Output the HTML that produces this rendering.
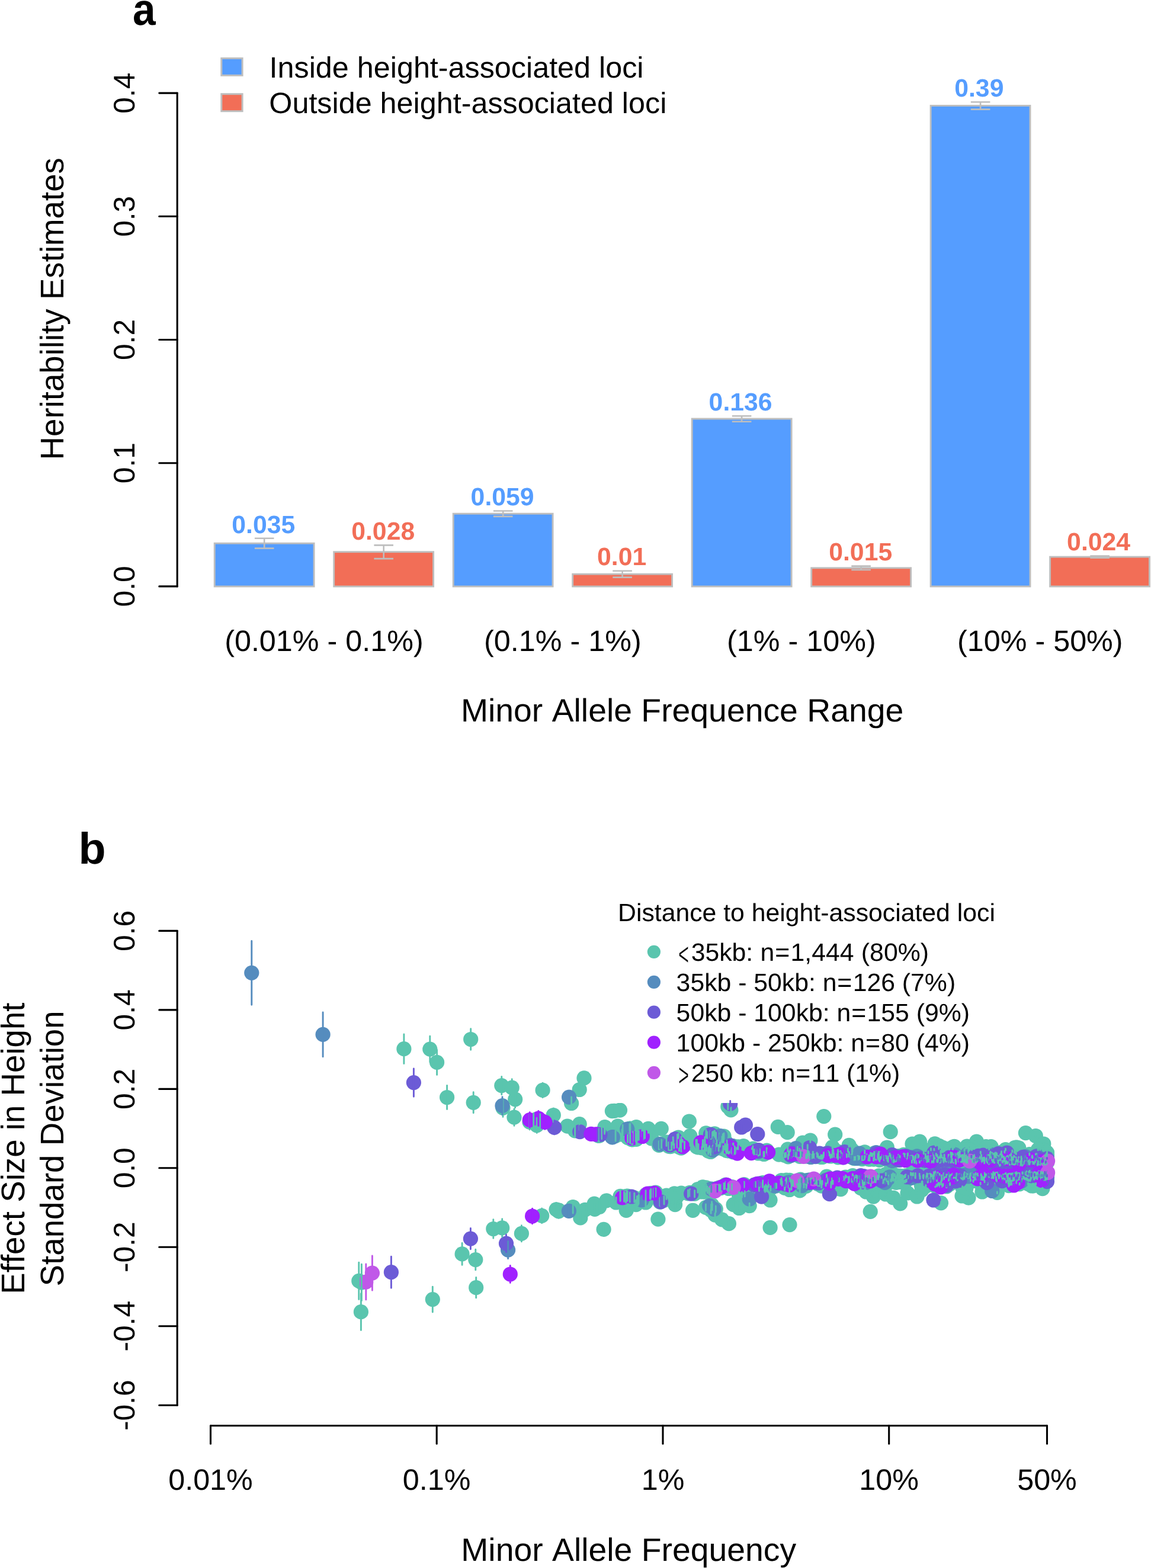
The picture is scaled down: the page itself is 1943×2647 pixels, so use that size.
<!DOCTYPE html>
<html lang="en"><head><meta charset="utf-8"><title>Figure</title>
<style>html,body{margin:0;padding:0;background:#fff}svg{display:block}text{font-family:'Liberation Sans', Arial, Helvetica, sans-serif;fill:#000;font-kerning:none;font-variant-ligatures:none;text-rendering:geometricPrecision}</style></head><body>
<svg width="1943" height="2647" viewBox="0 0 1943 2647">
<rect width="1943" height="2647" fill="#fff"/>
<g id="panel-a">
<text transform="translate(224 41.5) scale(0.925 1.012)" font-size="75" font-weight="bold">a</text>
<g stroke="#000" stroke-width="3.1" fill="none" stroke-linecap="round" stroke-linejoin="round">
<path d="M299.2 157.1 V989.9"/>
<path d="M268.8 989.9 H299.2"/>
<path d="M268.8 781.7 H299.2"/>
<path d="M268.8 573.5 H299.2"/>
<path d="M268.8 365.3 H299.2"/>
<path d="M268.8 157.1 H299.2"/>
</g>
<text transform="translate(227.4 989.9) rotate(-90) scale(0.994 1.006)" font-size="50" text-anchor="middle">0.0</text>
<text transform="translate(227.4 781.7) rotate(-90) scale(0.994 1.006)" font-size="50" text-anchor="middle">0.1</text>
<text transform="translate(227.4 573.5) rotate(-90) scale(0.994 1.006)" font-size="50" text-anchor="middle">0.2</text>
<text transform="translate(227.4 365.3) rotate(-90) scale(0.994 1.006)" font-size="50" text-anchor="middle">0.3</text>
<text transform="translate(227.4 157.1) rotate(-90) scale(0.994 1.006)" font-size="50" text-anchor="middle">0.4</text>
<text transform="translate(107 521.3) rotate(-90) scale(0.994 1.006)" font-size="55" text-anchor="middle">Heritability Estimates</text>
<rect x="362.2" y="917.2" width="167.9" height="72.8" fill="#559DFF" stroke="#BEBEBE" stroke-width="2.9"/>
<rect x="563.7" y="931.7" width="167.9" height="58.3" fill="#F26E57" stroke="#BEBEBE" stroke-width="2.9"/>
<rect x="765.2" y="867.2" width="167.9" height="122.8" fill="#559DFF" stroke="#BEBEBE" stroke-width="2.9"/>
<rect x="966.7" y="969.2" width="167.9" height="20.8" fill="#F26E57" stroke="#BEBEBE" stroke-width="2.9"/>
<rect x="1168.2" y="707" width="167.9" height="283" fill="#559DFF" stroke="#BEBEBE" stroke-width="2.9"/>
<rect x="1369.7" y="958.8" width="167.9" height="31.2" fill="#F26E57" stroke="#BEBEBE" stroke-width="2.9"/>
<rect x="1571.1" y="178.4" width="167.9" height="811.6" fill="#559DFF" stroke="#BEBEBE" stroke-width="2.9"/>
<rect x="1772.6" y="940.1" width="167.9" height="49.9" fill="#F26E57" stroke="#BEBEBE" stroke-width="2.9"/>
<path d="M446.2 908.8 V925.6 M429.9 908.8 h32.6 M429.9 925.6 h32.6" stroke="#BEBEBE" stroke-width="2.6" fill="none"/>
<text transform="translate(444.8 899.5) scale(1.006 0.994)" font-size="42.5" text-anchor="middle" font-weight="bold" style="fill:#559DFF">0.035</text>
<path d="M647.7 920.4 V943.1 M631.4 920.4 h32.6 M631.4 943.1 h32.6" stroke="#BEBEBE" stroke-width="2.6" fill="none"/>
<text transform="translate(646.7 911.1) scale(1.006 0.994)" font-size="42.5" text-anchor="middle" font-weight="bold" style="fill:#F26E57">0.028</text>
<path d="M849.2 862.5 V871.9 M832.9 862.5 h32.6 M832.9 871.9 h32.6" stroke="#BEBEBE" stroke-width="2.6" fill="none"/>
<text transform="translate(848.1 853.2) scale(1.006 0.994)" font-size="42.5" text-anchor="middle" font-weight="bold" style="fill:#559DFF">0.059</text>
<path d="M1050.6 963.7 V974.6 M1034.3 963.7 h32.6 M1034.3 974.6 h32.6" stroke="#BEBEBE" stroke-width="2.6" fill="none"/>
<text transform="translate(1049.6 954.4) scale(1.006 0.994)" font-size="42.5" text-anchor="middle" font-weight="bold" style="fill:#F26E57">0.01</text>
<path d="M1252.1 702.2 V711.8 M1235.8 702.2 h32.6 M1235.8 711.8 h32.6" stroke="#BEBEBE" stroke-width="2.6" fill="none"/>
<text transform="translate(1250.1 692.9) scale(1.006 0.994)" font-size="42.5" text-anchor="middle" font-weight="bold" style="fill:#559DFF">0.136</text>
<path d="M1453.6 955.6 V962 M1437.3 955.6 h32.6 M1437.3 962 h32.6" stroke="#BEBEBE" stroke-width="2.6" fill="none"/>
<text transform="translate(1452.7 946.3) scale(1.006 0.994)" font-size="42.5" text-anchor="middle" font-weight="bold" style="fill:#F26E57">0.015</text>
<path d="M1655.1 172.2 V184.6 M1638.8 172.2 h32.6 M1638.8 184.6 h32.6" stroke="#BEBEBE" stroke-width="2.6" fill="none"/>
<text transform="translate(1652.8 162.9) scale(1.006 0.994)" font-size="42.5" text-anchor="middle" font-weight="bold" style="fill:#559DFF">0.39</text>
<path d="M1856.6 938.6 V941.6 M1840.3 938.6 h32.6 M1840.3 941.6 h32.6" stroke="#BEBEBE" stroke-width="2.6" fill="none"/>
<text transform="translate(1854.6 929.3) scale(1.006 0.994)" font-size="42.5" text-anchor="middle" font-weight="bold" style="fill:#F26E57">0.024</text>
<rect x="373.8" y="98.4" width="35.3" height="28.9" fill="#559DFF" stroke="#BEBEBE" stroke-width="3"/>
<rect x="373.8" y="158.7" width="35.3" height="29" fill="#F26E57" stroke="#BEBEBE" stroke-width="3"/>
<text transform="translate(454.6 131.2) scale(1.006 0.994)" font-size="50">Inside height-associated loci</text>
<text transform="translate(454.3 191.4) scale(1.006 0.994)" font-size="50">Outside height-associated loci</text>
<text transform="translate(546.9 1098.5) scale(1.006 0.994)" font-size="50" text-anchor="middle">(0.01% - 0.1%)</text>
<text transform="translate(949.9 1098.5) scale(1.006 0.994)" font-size="50" text-anchor="middle">(0.1% - 1%)</text>
<text transform="translate(1352.9 1098.5) scale(1.006 0.994)" font-size="50" text-anchor="middle">(1% - 10%)</text>
<text transform="translate(1755.8 1098.5) scale(1.006 0.994)" font-size="50" text-anchor="middle">(10% - 50%)</text>
<text transform="translate(1151.6 1218) scale(1.006 0.994)" font-size="55" text-anchor="middle">Minor Allele Frequence Range</text>
</g>
<g id="panel-b">
<text transform="translate(132.6 1458.4) scale(1.006 0.994)" font-size="75" font-weight="bold">b</text>
<g stroke="#000" stroke-width="3.1" fill="none" stroke-linecap="round" stroke-linejoin="round">
<path d="M299.2 1571.4 V2372.3"/>
<path d="M268.8 1571.4 H299.2"/>
<path d="M268.8 1704.9 H299.2"/>
<path d="M268.8 1838.4 H299.2"/>
<path d="M268.8 1971.8 H299.2"/>
<path d="M268.8 2105.3 H299.2"/>
<path d="M268.8 2238.8 H299.2"/>
<path d="M268.8 2372.3 H299.2"/>
<path d="M355.5 2406.8 H1767.5"/>
<path d="M355.5 2406.8 V2437.2"/>
<path d="M737.2 2406.8 V2437.2"/>
<path d="M1119 2406.8 V2437.2"/>
<path d="M1500.7 2406.8 V2437.2"/>
<path d="M1767.5 2406.8 V2437.2"/>
</g>
<text transform="translate(227.4 1571.4) rotate(-90) scale(0.994 1.006)" font-size="50" text-anchor="middle">0.6</text>
<text transform="translate(227.4 1704.9) rotate(-90) scale(0.994 1.006)" font-size="50" text-anchor="middle">0.4</text>
<text transform="translate(227.4 1838.4) rotate(-90) scale(0.994 1.006)" font-size="50" text-anchor="middle">0.2</text>
<text transform="translate(227.4 1971.8) rotate(-90) scale(0.994 1.006)" font-size="50" text-anchor="middle">0.0</text>
<text transform="translate(227.4 2105.3) rotate(-90) scale(0.994 1.006)" font-size="50" text-anchor="middle">-0.2</text>
<text transform="translate(227.4 2238.8) rotate(-90) scale(0.994 1.006)" font-size="50" text-anchor="middle">-0.4</text>
<text transform="translate(227.4 2372.3) rotate(-90) scale(0.994 1.006)" font-size="50" text-anchor="middle">-0.6</text>
<text transform="translate(355.5 2515.3) scale(1.006 0.994)" font-size="50" text-anchor="middle">0.01%</text>
<text transform="translate(737.2 2515.3) scale(1.006 0.994)" font-size="50" text-anchor="middle">0.1%</text>
<text transform="translate(1119 2515.3) scale(1.006 0.994)" font-size="50" text-anchor="middle">1%</text>
<text transform="translate(1500.7 2515.3) scale(1.006 0.994)" font-size="50" text-anchor="middle">10%</text>
<text transform="translate(1767.5 2515.3) scale(1.006 0.994)" font-size="50" text-anchor="middle">50%</text>
<text transform="translate(41 1938.6) rotate(-90) scale(0.994 1.006)" font-size="55" text-anchor="middle">Effect Size in Height</text>
<text transform="translate(107.4 1938.9) rotate(-90) scale(0.994 1.006)" font-size="55" text-anchor="middle">Standard Deviation</text>
<text transform="translate(1061.2 2635.2) scale(1.006 0.994)" font-size="55" text-anchor="middle">Minor Allele Frequency</text>
<g fill="#5AC5AE">
<circle cx="681.9" cy="1770.7" r="12.6"/><circle cx="725.8" cy="1771.1" r="12.6"/><circle cx="737.6" cy="1793.4" r="12.6"/><circle cx="754.6" cy="1852.5" r="12.6"/><circle cx="794.7" cy="1754.5" r="12.6"/><circle cx="799.2" cy="1861.3" r="12.6"/><circle cx="846.8" cy="1832.6" r="12.6"/><circle cx="864.2" cy="1836.2" r="12.6"/><circle cx="869.7" cy="1855.8" r="12.6"/><circle cx="849" cy="1870.4" r="12.6"/><circle cx="868" cy="1886.2" r="12.6"/><circle cx="916.1" cy="1840.4" r="12.6"/><circle cx="986" cy="1819.9" r="12.6"/><circle cx="978.2" cy="1839.5" r="12.6"/><circle cx="964.6" cy="1862.5" r="12.6"/><circle cx="934.3" cy="1882.5" r="12.6"/><circle cx="906.2" cy="1899.8" r="12.6"/><circle cx="894" cy="1894" r="12.6"/><circle cx="900.7" cy="1892" r="12.6"/><circle cx="911.6" cy="1893" r="12.6"/><circle cx="970.6" cy="1908.8" r="12.6"/><circle cx="978.2" cy="1897.6" r="12.6"/><circle cx="1020.5" cy="1905.2" r="12.6"/><circle cx="1036.9" cy="1875.3" r="12.6"/><circle cx="1033.4" cy="1875.6" r="12.6"/><circle cx="1046.5" cy="1874.1" r="12.6"/><circle cx="1021.1" cy="1902.5" r="12.6"/><circle cx="1042.9" cy="1901" r="12.6"/><circle cx="1074.1" cy="1902.5" r="12.6"/><circle cx="1094.4" cy="1905.4" r="12.6"/><circle cx="1116.2" cy="1905.4" r="12.6"/><circle cx="1163.4" cy="1893" r="12.6"/><circle cx="1164.9" cy="1917.7" r="12.6"/><circle cx="1050" cy="1915" r="12.6"/><circle cx="1075" cy="1922" r="12.6"/><circle cx="1100" cy="1922" r="12.6"/><circle cx="1125" cy="1928" r="12.6"/><circle cx="1150" cy="1925" r="12.6"/><circle cx="1175" cy="1930" r="12.6"/><circle cx="1190" cy="1925" r="12.6"/><circle cx="1210" cy="1930" r="12.6"/><circle cx="1222" cy="1918" r="12.6"/><circle cx="605.8" cy="2162.4" r="12.6"/><circle cx="610.4" cy="2165" r="12.6"/><circle cx="609.4" cy="2214.7" r="12.6"/><circle cx="730.3" cy="2193.6" r="12.6"/><circle cx="780.1" cy="2116.9" r="12.6"/><circle cx="802.8" cy="2126.6" r="12.6"/><circle cx="803.7" cy="2173.7" r="12.6"/><circle cx="832.8" cy="2074.5" r="12.6"/><circle cx="847.7" cy="2072.9" r="12.6"/><circle cx="880.4" cy="2082.4" r="12.6"/><circle cx="942" cy="2043.3" r="12.6"/><circle cx="967.2" cy="2037.5" r="12.6"/><circle cx="979.8" cy="2055.9" r="12.6"/><circle cx="987.5" cy="2042.3" r="12.6"/><circle cx="1004" cy="2041.4" r="12.6"/><circle cx="1011.7" cy="2037.5" r="12.6"/><circle cx="1023.7" cy="2026.8" r="12.6"/><circle cx="1019.1" cy="2075.3" r="12.6"/><circle cx="1057.2" cy="2043.3" r="12.6"/><circle cx="1073.7" cy="2033.6" r="12.6"/><circle cx="1110.9" cy="2058.2" r="12.6"/><circle cx="1125" cy="2018" r="12.6"/><circle cx="1139.6" cy="2033.6" r="12.6"/><circle cx="1150" cy="2014" r="12.6"/><circle cx="1169.6" cy="2043.3" r="12.6"/><circle cx="1185" cy="2012" r="12.6"/><circle cx="1040" cy="2030" r="12.6"/><circle cx="1090" cy="2030" r="12.6"/><circle cx="1233.9" cy="1873.9" r="12.6"/><circle cx="1228.8" cy="1868" r="12.6"/><circle cx="1313.3" cy="1902.4" r="12.6"/><circle cx="1329.2" cy="1911.7" r="12.6"/><circle cx="1390.8" cy="1884.6" r="12.6"/><circle cx="1409.7" cy="1915.2" r="12.6"/><circle cx="1503.2" cy="1910.7" r="12.6"/><circle cx="1367.9" cy="1925.2" r="12.6"/><circle cx="1552.6" cy="1927.2" r="12.6"/><circle cx="1540" cy="1931" r="12.6"/><circle cx="1648.5" cy="1927.2" r="12.6"/><circle cx="1731.4" cy="1912.6" r="12.6"/><circle cx="1748.3" cy="1917.5" r="12.6"/><circle cx="1761.8" cy="1931" r="12.6"/><circle cx="1474.4" cy="2020.1" r="12.6"/><circle cx="1469.2" cy="2045.3" r="12.6"/><circle cx="1300.1" cy="2072.4" r="12.6"/><circle cx="1333" cy="2067.6" r="12.6"/><circle cx="1300.1" cy="2026" r="12.6"/><circle cx="1207.1" cy="2051.1" r="12.6"/><circle cx="1218.7" cy="2058.9" r="12.6"/><circle cx="1230.4" cy="2065.7" r="12.6"/><circle cx="1238.1" cy="2033.7" r="12.6"/><circle cx="1247.8" cy="2039.5" r="12.6"/><circle cx="1265.2" cy="2035.6" r="12.6"/><circle cx="1519.7" cy="2031.8" r="12.6"/><circle cx="1588.5" cy="2030.8" r="12.6"/><circle cx="1635" cy="2022.1" r="12.6"/><circle cx="1624" cy="2019" r="12.6"/><circle cx="1683.4" cy="2013.4" r="12.6"/><circle cx="1759.9" cy="2006.6" r="12.6"/><circle cx="1658" cy="2012" r="12.6"/><circle cx="1462" cy="2012" r="12.6"/><circle cx="1480" cy="2009" r="12.6"/><circle cx="1495" cy="2016" r="12.6"/><circle cx="1508" cy="2022" r="12.6"/><circle cx="1532" cy="2014" r="12.6"/><circle cx="1548" cy="2020" r="12.6"/><circle cx="1556" cy="2009" r="12.6"/><circle cx="1063.9" cy="1905.1" r="12.6"/><circle cx="1063.7" cy="1905.3" r="12.6"/><circle cx="1062.9" cy="1905.3" r="12.6"/><circle cx="1051.1" cy="1907.3" r="12.6"/><circle cx="1073.2" cy="1919.1" r="12.6"/><circle cx="1059.6" cy="1920.5" r="12.6"/><circle cx="1063.6" cy="1922" r="12.6"/><circle cx="1078.3" cy="1916.7" r="12.6"/><circle cx="1076.4" cy="1917.3" r="12.6"/><circle cx="1112.4" cy="1933.4" r="12.6"/><circle cx="1113.4" cy="1932.6" r="12.6"/><circle cx="1116.6" cy="1931" r="12.6"/><circle cx="1145.2" cy="1920.1" r="12.6"/><circle cx="1143.5" cy="1921.4" r="12.6"/><circle cx="1128.8" cy="1935" r="12.6"/><circle cx="1131.3" cy="1935.6" r="12.6"/><circle cx="1133.8" cy="1934.9" r="12.6"/><circle cx="1137.8" cy="1932" r="12.6"/><circle cx="1152.2" cy="1930.2" r="12.6"/><circle cx="1143.1" cy="1931.1" r="12.6"/><circle cx="1149.9" cy="1938.2" r="12.6"/><circle cx="1146.5" cy="1936.5" r="12.6"/><circle cx="1155.5" cy="1933.3" r="12.6"/><circle cx="1186.5" cy="1930" r="12.6"/><circle cx="1186.3" cy="1931.5" r="12.6"/><circle cx="1189.7" cy="1927.6" r="12.6"/><circle cx="1192.1" cy="1913.9" r="12.6"/><circle cx="1205.2" cy="1914.7" r="12.6"/><circle cx="1200.2" cy="1917.4" r="12.6"/><circle cx="1203" cy="1915.8" r="12.6"/><circle cx="1221.7" cy="1923.7" r="12.6"/><circle cx="1218.9" cy="1923.6" r="12.6"/><circle cx="1195.6" cy="1943.1" r="12.6"/><circle cx="1199.6" cy="1944.5" r="12.6"/><circle cx="1197.6" cy="1940.1" r="12.6"/><circle cx="1228.6" cy="1937.1" r="12.6"/><circle cx="1223.8" cy="1936" r="12.6"/><circle cx="1225.5" cy="1939.7" r="12.6"/><circle cx="1053.6" cy="2020.1" r="12.6"/><circle cx="1047.1" cy="2019.3" r="12.6"/><circle cx="1056.6" cy="2022.3" r="12.6"/><circle cx="1057.9" cy="2019.3" r="12.6"/><circle cx="1070.8" cy="2021.8" r="12.6"/><circle cx="1063.4" cy="2021.2" r="12.6"/><circle cx="1059.1" cy="2019.2" r="12.6"/><circle cx="1077" cy="2027.1" r="12.6"/><circle cx="1075.4" cy="2027.2" r="12.6"/><circle cx="1078.1" cy="2024.8" r="12.6"/><circle cx="1097.4" cy="2016.7" r="12.6"/><circle cx="1098.8" cy="2014.3" r="12.6"/><circle cx="1090.2" cy="2017" r="12.6"/><circle cx="1098" cy="2017.2" r="12.6"/><circle cx="1103.3" cy="2014" r="12.6"/><circle cx="1106.9" cy="2013" r="12.6"/><circle cx="1114" cy="2029.1" r="12.6"/><circle cx="1121" cy="2026.3" r="12.6"/><circle cx="1172.6" cy="2015.3" r="12.6"/><circle cx="1161.5" cy="2014.8" r="12.6"/><circle cx="1164.6" cy="2013.4" r="12.6"/><circle cx="1202.4" cy="2037.5" r="12.6"/><circle cx="1201.6" cy="2034" r="12.6"/><circle cx="1191.4" cy="2038.4" r="12.6"/><circle cx="1193.5" cy="1916.1" r="12.6"/><circle cx="1206.3" cy="1913.9" r="12.6"/><circle cx="1198.7" cy="1915.1" r="12.6"/><circle cx="1191.8" cy="1912.9" r="12.6"/><circle cx="1220.3" cy="1919.6" r="12.6"/><circle cx="1214.8" cy="1918.2" r="12.6"/><circle cx="1208.3" cy="1917.6" r="12.6"/><circle cx="1208.7" cy="1917" r="12.6"/><circle cx="1200.4" cy="2038.4" r="12.6"/><circle cx="1208.3" cy="2041.1" r="12.6"/><circle cx="1200.1" cy="2043.2" r="12.6"/><circle cx="1585.8" cy="1958.2" r="12.6"/><circle cx="1582.8" cy="1959.9" r="12.6"/><circle cx="1325.8" cy="2000.4" r="12.6"/><circle cx="1605.3" cy="1986.5" r="12.6"/><circle cx="1609.6" cy="1985.4" r="12.6"/><circle cx="1606.7" cy="1984.8" r="12.6"/><circle cx="1596.7" cy="1985" r="12.6"/><circle cx="1351.5" cy="1950.7" r="12.6"/><circle cx="1335.9" cy="1949.8" r="12.6"/><circle cx="1701.2" cy="1952.5" r="12.6"/><circle cx="1694.5" cy="1953.8" r="12.6"/><circle cx="1691.4" cy="1952.6" r="12.6"/><circle cx="1619" cy="1954.8" r="12.6"/><circle cx="1628.4" cy="1951.9" r="12.6"/><circle cx="1626" cy="1953" r="12.6"/><circle cx="1624.4" cy="1951.1" r="12.6"/><circle cx="1621.9" cy="1952.8" r="12.6"/><circle cx="1396.8" cy="1947.9" r="12.6"/><circle cx="1192" cy="2004.8" r="12.6"/><circle cx="1562.4" cy="1950" r="12.6"/><circle cx="1550.6" cy="1951.5" r="12.6"/><circle cx="1462" cy="1987.8" r="12.6"/><circle cx="1475.7" cy="1988.3" r="12.6"/><circle cx="1184.5" cy="2007" r="12.6"/><circle cx="1189" cy="2006.8" r="12.6"/><circle cx="1186.3" cy="2003.9" r="12.6"/><circle cx="1423.6" cy="1953.8" r="12.6"/><circle cx="1706.9" cy="1987.2" r="12.6"/><circle cx="1433.2" cy="1933.3" r="12.6"/><circle cx="1766.3" cy="1948.5" r="12.6"/><circle cx="1458.5" cy="1989.6" r="12.6"/><circle cx="1467.1" cy="1987.2" r="12.6"/><circle cx="1451.3" cy="1989.4" r="12.6"/><circle cx="1678.8" cy="1961.8" r="12.6"/><circle cx="1687.6" cy="1966.5" r="12.6"/><circle cx="1074.2" cy="1923.4" r="12.6"/><circle cx="1067.6" cy="1923.9" r="12.6"/><circle cx="1066.2" cy="1923.6" r="12.6"/><circle cx="1720.9" cy="1981.9" r="12.6"/><circle cx="1716.3" cy="1982.9" r="12.6"/><circle cx="1704.2" cy="1989.5" r="12.6"/><circle cx="1696.2" cy="1989.9" r="12.6"/><circle cx="1694.2" cy="1987.9" r="12.6"/><circle cx="1329.8" cy="1940.1" r="12.6"/><circle cx="1660.3" cy="1955.4" r="12.6"/><circle cx="1422.6" cy="1989.9" r="12.6"/><circle cx="1650" cy="1956.3" r="12.6"/><circle cx="1704.4" cy="1965" r="12.6"/><circle cx="1712.8" cy="1963" r="12.6"/><circle cx="1708.7" cy="1963.7" r="12.6"/><circle cx="1715.4" cy="1962.8" r="12.6"/><circle cx="1707.7" cy="1963.9" r="12.6"/><circle cx="1336" cy="2004.9" r="12.6"/><circle cx="1324.6" cy="2005.3" r="12.6"/><circle cx="1631.9" cy="1952.1" r="12.6"/><circle cx="1626.7" cy="1952.8" r="12.6"/><circle cx="1657.7" cy="1959.8" r="12.6"/><circle cx="1662.2" cy="1957.5" r="12.6"/><circle cx="1648.8" cy="1959.3" r="12.6"/><circle cx="1757.4" cy="1956.9" r="12.6"/><circle cx="1589.3" cy="1952.1" r="12.6"/><circle cx="1192.4" cy="1937.7" r="12.6"/><circle cx="1184.9" cy="1936.7" r="12.6"/><circle cx="1189.4" cy="1937.8" r="12.6"/><circle cx="1625.5" cy="1959.6" r="12.6"/><circle cx="1715.8" cy="1980" r="12.6"/><circle cx="1706.9" cy="1994.3" r="12.6"/><circle cx="1705.4" cy="1993.1" r="12.6"/><circle cx="1701.1" cy="1992.4" r="12.6"/><circle cx="1698.6" cy="1994.9" r="12.6"/><circle cx="1630.7" cy="1937.5" r="12.6"/><circle cx="1632.3" cy="1935.2" r="12.6"/><circle cx="1536.9" cy="1953.1" r="12.6"/><circle cx="1538.6" cy="1953.2" r="12.6"/><circle cx="1541.6" cy="1955.5" r="12.6"/><circle cx="1544.7" cy="1955.5" r="12.6"/><circle cx="1730.2" cy="1958.5" r="12.6"/><circle cx="1722.6" cy="1959.8" r="12.6"/><circle cx="1557.3" cy="1999.4" r="12.6"/><circle cx="1555.4" cy="2001" r="12.6"/><circle cx="1562.8" cy="2002.5" r="12.6"/><circle cx="1147.8" cy="1930.8" r="12.6"/><circle cx="1351.2" cy="1991.1" r="12.6"/><circle cx="1588.6" cy="1943.8" r="12.6"/><circle cx="1594.3" cy="1941.8" r="12.6"/><circle cx="1587.8" cy="1944.8" r="12.6"/><circle cx="1332.8" cy="1997.9" r="12.6"/><circle cx="1338" cy="1996.2" r="12.6"/><circle cx="1725.8" cy="1987.9" r="12.6"/><circle cx="1740.2" cy="1988.5" r="12.6"/><circle cx="1735.4" cy="1984.5" r="12.6"/><circle cx="1728" cy="1987.9" r="12.6"/><circle cx="1733.2" cy="1962.6" r="12.6"/><circle cx="1735" cy="1961.6" r="12.6"/><circle cx="1607.3" cy="1983.9" r="12.6"/><circle cx="1614.8" cy="1982.6" r="12.6"/><circle cx="1605.1" cy="1988.3" r="12.6"/><circle cx="1320.1" cy="1997.9" r="12.6"/><circle cx="1539.4" cy="1960.7" r="12.6"/><circle cx="1546.9" cy="1962.3" r="12.6"/><circle cx="1668.3" cy="1955" r="12.6"/><circle cx="1657.8" cy="1956.2" r="12.6"/><circle cx="1658" cy="1957.3" r="12.6"/><circle cx="1653.7" cy="1957.8" r="12.6"/><circle cx="1519.1" cy="1953.5" r="12.6"/><circle cx="1681.4" cy="1985.5" r="12.6"/><circle cx="1696.3" cy="1983.4" r="12.6"/><circle cx="1697.9" cy="1984.9" r="12.6"/><circle cx="1693.3" cy="1986" r="12.6"/><circle cx="1691.2" cy="1986" r="12.6"/><circle cx="1747.6" cy="1980.9" r="12.6"/><circle cx="1601.6" cy="1991.4" r="12.6"/><circle cx="1582.2" cy="1951.5" r="12.6"/><circle cx="1575.6" cy="1948.2" r="12.6"/><circle cx="1725.9" cy="1980.2" r="12.6"/><circle cx="1757" cy="1958.3" r="12.6"/><circle cx="1755.4" cy="1958.1" r="12.6"/><circle cx="1716.3" cy="1963.3" r="12.6"/><circle cx="1709.6" cy="1961.5" r="12.6"/><circle cx="1712.8" cy="1964.8" r="12.6"/><circle cx="1716.4" cy="1959.9" r="12.6"/><circle cx="1717" cy="1962.4" r="12.6"/><circle cx="1744.4" cy="2001.9" r="12.6"/><circle cx="1741.7" cy="2002" r="12.6"/><circle cx="1287.7" cy="1996.7" r="12.6"/><circle cx="1297.3" cy="2000" r="12.6"/><circle cx="1287.2" cy="2000.6" r="12.6"/><circle cx="1279" cy="1998.4" r="12.6"/><circle cx="1282.7" cy="1999.8" r="12.6"/><circle cx="1184.9" cy="1937.9" r="12.6"/><circle cx="1757.8" cy="1958" r="12.6"/><circle cx="1447.4" cy="1954.5" r="12.6"/><circle cx="1467.1" cy="1952.8" r="12.6"/><circle cx="1450.7" cy="1954.1" r="12.6"/><circle cx="1444.4" cy="1955.5" r="12.6"/><circle cx="1738.2" cy="1977.6" r="12.6"/><circle cx="1567" cy="1945.5" r="12.6"/><circle cx="1559.3" cy="1945.9" r="12.6"/><circle cx="1221.6" cy="2002.6" r="12.6"/><circle cx="1235.8" cy="2003.7" r="12.6"/><circle cx="1224.9" cy="2000" r="12.6"/><circle cx="1230.1" cy="2006.5" r="12.6"/><circle cx="1701" cy="1955.1" r="12.6"/><circle cx="1696" cy="1956.4" r="12.6"/><circle cx="1705.2" cy="1957.6" r="12.6"/><circle cx="1625.9" cy="1959.5" r="12.6"/><circle cx="1626.8" cy="1954.9" r="12.6"/><circle cx="1386.6" cy="1997.2" r="12.6"/><circle cx="1386.8" cy="2002.1" r="12.6"/><circle cx="1754.5" cy="1985" r="12.6"/><circle cx="1756.5" cy="1981.9" r="12.6"/><circle cx="1681.5" cy="1991" r="12.6"/><circle cx="1682.5" cy="1992.9" r="12.6"/><circle cx="1566.7" cy="1986.3" r="12.6"/><circle cx="1572.1" cy="1984.1" r="12.6"/><circle cx="1564.7" cy="1982.9" r="12.6"/><circle cx="1576.3" cy="1980.5" r="12.6"/><circle cx="1526.7" cy="1949.6" r="12.6"/><circle cx="1528.9" cy="1952.4" r="12.6"/><circle cx="1678.8" cy="1982" r="12.6"/><circle cx="1685.7" cy="1983.7" r="12.6"/><circle cx="1681.5" cy="1985.6" r="12.6"/><circle cx="1677.1" cy="1987.7" r="12.6"/><circle cx="1667.2" cy="1984.3" r="12.6"/><circle cx="1578.1" cy="1930.9" r="12.6"/><circle cx="1584.8" cy="1938.4" r="12.6"/><circle cx="1584.7" cy="1934" r="12.6"/><circle cx="1579.5" cy="1932.8" r="12.6"/><circle cx="1165.1" cy="1928.8" r="12.6"/><circle cx="1165.9" cy="1927.7" r="12.6"/><circle cx="1548.3" cy="1950.3" r="12.6"/><circle cx="1718.5" cy="1960.9" r="12.6"/><circle cx="1605.4" cy="1961.2" r="12.6"/><circle cx="1622.4" cy="1960.2" r="12.6"/><circle cx="1608" cy="1958.2" r="12.6"/><circle cx="1607.1" cy="1959.6" r="12.6"/><circle cx="1478.8" cy="1955.7" r="12.6"/><circle cx="1482.7" cy="1955.2" r="12.6"/><circle cx="1484.8" cy="1958.4" r="12.6"/><circle cx="1483.2" cy="1955.7" r="12.6"/><circle cx="1650.8" cy="1955.4" r="12.6"/><circle cx="1628.8" cy="1958.7" r="12.6"/><circle cx="1347.4" cy="1998.8" r="12.6"/><circle cx="1331" cy="2001" r="12.6"/><circle cx="1338.6" cy="1998.3" r="12.6"/><circle cx="1337.2" cy="1997.2" r="12.6"/><circle cx="1649.3" cy="1989.8" r="12.6"/><circle cx="1658" cy="1990.6" r="12.6"/><circle cx="1659.3" cy="1990.5" r="12.6"/><circle cx="1709.8" cy="1992.3" r="12.6"/><circle cx="1715.8" cy="1996.1" r="12.6"/><circle cx="1707.4" cy="1993.2" r="12.6"/><circle cx="1481.2" cy="1987.3" r="12.6"/><circle cx="1483.7" cy="1984.9" r="12.6"/><circle cx="1488.4" cy="1988.2" r="12.6"/><circle cx="1614.8" cy="1988.8" r="12.6"/><circle cx="1614.4" cy="1988.3" r="12.6"/><circle cx="1240.2" cy="1940.1" r="12.6"/><circle cx="1240" cy="1941.2" r="12.6"/><circle cx="1238.3" cy="1943.1" r="12.6"/><circle cx="1239" cy="1941.2" r="12.6"/><circle cx="1608.6" cy="1938.3" r="12.6"/><circle cx="1608.9" cy="1936.4" r="12.6"/><circle cx="1309.7" cy="2001.8" r="12.6"/><circle cx="1310.6" cy="2001.9" r="12.6"/><circle cx="1734.5" cy="1981.8" r="12.6"/><circle cx="1741.9" cy="1980.4" r="12.6"/><circle cx="1705.5" cy="1983.3" r="12.6"/><circle cx="1706.4" cy="1982.9" r="12.6"/><circle cx="1493.9" cy="1991" r="12.6"/><circle cx="1332.8" cy="2008.5" r="12.6"/><circle cx="1664.3" cy="1935.6" r="12.6"/><circle cx="1669.6" cy="1939.4" r="12.6"/><circle cx="1665.6" cy="1936.4" r="12.6"/><circle cx="1672.2" cy="1936.1" r="12.6"/><circle cx="1673.1" cy="1935.6" r="12.6"/><circle cx="1740.1" cy="1960.2" r="12.6"/><circle cx="1757.3" cy="1989.4" r="12.6"/><circle cx="1767.5" cy="1989.4" r="12.6"/><circle cx="1763.3" cy="1990.4" r="12.6"/><circle cx="1767.5" cy="1986.7" r="12.6"/><circle cx="1760.8" cy="1988.1" r="12.6"/><circle cx="1405.2" cy="1936.4" r="12.6"/><circle cx="1578" cy="1956.4" r="12.6"/><circle cx="1575.5" cy="1959.6" r="12.6"/><circle cx="1573.2" cy="1958.2" r="12.6"/><circle cx="1576.6" cy="1957.8" r="12.6"/><circle cx="1738.9" cy="1992.6" r="12.6"/><circle cx="1734" cy="1990.9" r="12.6"/><circle cx="1732.8" cy="1978.8" r="12.6"/><circle cx="1733.8" cy="1980.4" r="12.6"/><circle cx="1738.9" cy="1982.8" r="12.6"/><circle cx="1732.8" cy="1982.4" r="12.6"/><circle cx="1731.1" cy="1980.7" r="12.6"/><circle cx="1477.1" cy="1954.7" r="12.6"/><circle cx="1486.3" cy="1954.8" r="12.6"/><circle cx="1480.4" cy="1952.2" r="12.6"/><circle cx="1476.5" cy="1953" r="12.6"/><circle cx="1706.3" cy="1982.5" r="12.6"/><circle cx="1708.4" cy="1982.3" r="12.6"/><circle cx="1701.5" cy="1985.3" r="12.6"/><circle cx="1717.4" cy="1985.9" r="12.6"/><circle cx="1714.4" cy="1983.2" r="12.6"/><circle cx="1203" cy="1940" r="12.6"/><circle cx="1355" cy="1929.2" r="12.6"/><circle cx="1478.6" cy="1948.9" r="12.6"/><circle cx="1475.7" cy="1946.8" r="12.6"/><circle cx="1472.9" cy="1949.5" r="12.6"/><circle cx="1480.3" cy="1949.9" r="12.6"/><circle cx="1478.6" cy="1947.3" r="12.6"/><circle cx="1481.4" cy="1950.4" r="12.6"/><circle cx="1485.7" cy="1947.3" r="12.6"/><circle cx="1672.1" cy="1945.7" r="12.6"/><circle cx="1669.4" cy="1951.9" r="12.6"/><circle cx="1670.6" cy="1951.7" r="12.6"/><circle cx="1661.9" cy="1994.2" r="12.6"/><circle cx="1655.2" cy="1997.9" r="12.6"/><circle cx="1767.5" cy="1988.5" r="12.6"/><circle cx="1767.5" cy="1984.5" r="12.6"/><circle cx="1766" cy="1985.8" r="12.6"/><circle cx="1759.8" cy="1985" r="12.6"/><circle cx="1760.4" cy="1985.8" r="12.6"/><circle cx="1575.1" cy="1992.1" r="12.6"/><circle cx="1686" cy="1950.5" r="12.6"/><circle cx="1677.2" cy="1949.2" r="12.6"/><circle cx="1668.2" cy="1950.9" r="12.6"/><circle cx="1677.4" cy="1952.7" r="12.6"/><circle cx="1763.3" cy="1990.9" r="12.6"/><circle cx="1765.6" cy="1990.8" r="12.6"/><circle cx="1333.9" cy="1946.4" r="12.6"/><circle cx="1339.7" cy="1945.4" r="12.6"/><circle cx="1334" cy="1944.2" r="12.6"/><circle cx="1346.6" cy="1945.8" r="12.6"/><circle cx="1348" cy="1994.9" r="12.6"/><circle cx="1345.5" cy="1996.6" r="12.6"/><circle cx="1470.1" cy="1999.6" r="12.6"/><circle cx="1368.4" cy="1993.6" r="12.6"/><circle cx="1375.7" cy="1994.8" r="12.6"/><circle cx="1374.5" cy="1992.1" r="12.6"/><circle cx="1374" cy="1991.4" r="12.6"/><circle cx="1370" cy="1992.1" r="12.6"/><circle cx="1365.8" cy="1992.3" r="12.6"/><circle cx="1728.4" cy="1960.9" r="12.6"/><circle cx="1716" cy="1961.1" r="12.6"/><circle cx="1730.7" cy="1962.9" r="12.6"/><circle cx="1613.6" cy="1987.3" r="12.6"/><circle cx="1616.5" cy="1986.6" r="12.6"/><circle cx="1622.2" cy="1984.8" r="12.6"/><circle cx="1628" cy="1988.6" r="12.6"/><circle cx="1601.2" cy="1951" r="12.6"/><circle cx="1601.5" cy="1955.5" r="12.6"/><circle cx="1606.3" cy="1952.6" r="12.6"/><circle cx="1604.2" cy="1953.7" r="12.6"/><circle cx="1604.4" cy="1957" r="12.6"/><circle cx="1667.1" cy="1998.3" r="12.6"/><circle cx="1686.2" cy="1961.2" r="12.6"/><circle cx="1688.7" cy="1958.2" r="12.6"/><circle cx="1688.1" cy="1961.6" r="12.6"/><circle cx="1672.5" cy="1958.4" r="12.6"/><circle cx="1689.1" cy="1957.2" r="12.6"/><circle cx="1444.5" cy="1992.5" r="12.6"/><circle cx="1445.9" cy="1991.9" r="12.6"/><circle cx="1450.9" cy="1990.1" r="12.6"/><circle cx="1444.3" cy="1990.6" r="12.6"/><circle cx="1525.4" cy="1949.3" r="12.6"/><circle cx="1532.4" cy="1948.9" r="12.6"/><circle cx="1528.6" cy="1950.9" r="12.6"/><circle cx="1294" cy="2006.6" r="12.6"/><circle cx="1295.3" cy="2006.1" r="12.6"/><circle cx="1290.5" cy="2006.4" r="12.6"/><circle cx="1300.9" cy="2006.3" r="12.6"/><circle cx="1295.1" cy="2007.7" r="12.6"/><circle cx="1291.6" cy="2008.4" r="12.6"/><circle cx="1545" cy="1953.9" r="12.6"/><circle cx="1554.8" cy="1956.9" r="12.6"/><circle cx="1372.3" cy="1947.5" r="12.6"/><circle cx="1607.4" cy="1947.9" r="12.6"/><circle cx="1604.9" cy="1947.1" r="12.6"/><circle cx="1594" cy="1951.1" r="12.6"/><circle cx="1217.8" cy="2004.8" r="12.6"/><circle cx="1230.1" cy="2004.7" r="12.6"/><circle cx="1227.9" cy="2004.2" r="12.6"/><circle cx="1223.7" cy="2002.3" r="12.6"/><circle cx="1427.4" cy="1989.6" r="12.6"/><circle cx="1332.9" cy="1992.3" r="12.6"/><circle cx="1327.5" cy="1992.2" r="12.6"/><circle cx="1702.2" cy="1955.5" r="12.6"/><circle cx="1699.4" cy="1955.3" r="12.6"/><circle cx="1703.7" cy="1955" r="12.6"/><circle cx="1704.6" cy="1954.4" r="12.6"/><circle cx="1712.5" cy="1954.1" r="12.6"/><circle cx="1678.3" cy="1959.3" r="12.6"/><circle cx="1759.2" cy="1980.2" r="12.6"/><circle cx="1759.7" cy="1979.8" r="12.6"/><circle cx="1755.9" cy="1979" r="12.6"/><circle cx="1753.6" cy="1978.3" r="12.6"/><circle cx="1751.5" cy="1980.9" r="12.6"/><circle cx="1746" cy="1979.8" r="12.6"/><circle cx="1743.5" cy="1982.2" r="12.6"/><circle cx="1570.4" cy="1990.6" r="12.6"/><circle cx="1573" cy="1989.6" r="12.6"/><circle cx="1575.5" cy="1989.6" r="12.6"/><circle cx="1589.3" cy="1991.3" r="12.6"/><circle cx="1737.8" cy="1964.8" r="12.6"/><circle cx="1747.4" cy="1963.8" r="12.6"/><circle cx="1737.9" cy="1964.1" r="12.6"/><circle cx="1541.6" cy="1953.7" r="12.6"/><circle cx="1539.5" cy="1952.8" r="12.6"/><circle cx="1214" cy="2004.9" r="12.6"/><circle cx="1217" cy="2005.6" r="12.6"/><circle cx="1209" cy="2006.7" r="12.6"/><circle cx="1574.6" cy="1992.1" r="12.6"/><circle cx="1570.6" cy="1993.5" r="12.6"/><circle cx="1566.5" cy="1988.7" r="12.6"/><circle cx="1580.2" cy="1949.2" r="12.6"/><circle cx="1588.7" cy="1951.3" r="12.6"/><circle cx="1505.1" cy="1955.6" r="12.6"/><circle cx="1498" cy="1957.5" r="12.6"/><circle cx="1495.6" cy="1953.4" r="12.6"/><circle cx="1499" cy="1954.2" r="12.6"/><circle cx="1628.2" cy="1951.5" r="12.6"/><circle cx="1618.6" cy="1949.8" r="12.6"/><circle cx="1626" cy="1951.8" r="12.6"/><circle cx="1628.3" cy="1948.1" r="12.6"/><circle cx="1623.4" cy="1952.1" r="12.6"/><circle cx="1616.8" cy="1947.6" r="12.6"/><circle cx="1459.7" cy="1944.8" r="12.6"/><circle cx="1469.6" cy="1948.5" r="12.6"/><circle cx="1470.7" cy="1949.1" r="12.6"/><circle cx="1694.8" cy="1961.7" r="12.6"/><circle cx="1726.8" cy="1964.8" r="12.6"/><circle cx="1726.5" cy="1963.3" r="12.6"/><circle cx="1431.4" cy="1994.2" r="12.6"/><circle cx="1438" cy="1992.7" r="12.6"/><circle cx="1433.2" cy="1992.9" r="12.6"/><circle cx="1427.2" cy="1991.2" r="12.6"/><circle cx="1439.6" cy="1991.6" r="12.6"/><circle cx="1449" cy="1994.8" r="12.6"/><circle cx="1467.3" cy="1993.4" r="12.6"/><circle cx="1039.1" cy="1917.7" r="12.6"/><circle cx="1686.4" cy="1959.4" r="12.6"/><circle cx="1675.8" cy="1959.5" r="12.6"/><circle cx="1671" cy="1957.5" r="12.6"/><circle cx="1674" cy="1959.4" r="12.6"/><circle cx="1588" cy="1993" r="12.6"/><circle cx="1587.5" cy="1992" r="12.6"/><circle cx="1590.2" cy="1991.2" r="12.6"/><circle cx="1439.4" cy="1984.6" r="12.6"/><circle cx="1443.7" cy="1991.9" r="12.6"/><circle cx="1444.8" cy="1986.6" r="12.6"/><circle cx="1441.1" cy="1988.1" r="12.6"/><circle cx="1748.9" cy="1957.4" r="12.6"/><circle cx="1569.9" cy="1960.2" r="12.6"/><circle cx="1566.1" cy="1957.7" r="12.6"/><circle cx="1255.1" cy="1934.6" r="12.6"/><circle cx="1253" cy="1936.7" r="12.6"/><circle cx="1255.3" cy="1937.2" r="12.6"/><circle cx="1683.3" cy="1980.5" r="12.6"/><circle cx="1680.6" cy="1980.9" r="12.6"/><circle cx="1764.3" cy="1987.8" r="12.6"/><circle cx="1766.2" cy="1989.4" r="12.6"/><circle cx="1767.5" cy="1984.3" r="12.6"/><circle cx="1688.3" cy="1966.4" r="12.6"/><circle cx="1682.5" cy="1960.7" r="12.6"/><circle cx="1685.4" cy="1961.9" r="12.6"/><circle cx="1746.2" cy="1989.9" r="12.6"/><circle cx="1735.9" cy="1992.5" r="12.6"/><circle cx="1757" cy="1984.4" r="12.6"/><circle cx="1757.4" cy="1986.9" r="12.6"/><circle cx="1760.2" cy="1986.7" r="12.6"/><circle cx="1759.1" cy="1986.9" r="12.6"/><circle cx="1642.9" cy="1993.6" r="12.6"/><circle cx="1645.7" cy="1990.2" r="12.6"/><circle cx="1673.9" cy="1960.7" r="12.6"/><circle cx="1684.4" cy="1960" r="12.6"/><circle cx="1677.8" cy="1961.4" r="12.6"/><circle cx="1669.8" cy="1960.2" r="12.6"/><circle cx="1672.7" cy="1960" r="12.6"/><circle cx="1207.5" cy="1936.5" r="12.6"/><circle cx="1213.2" cy="1937.9" r="12.6"/><circle cx="1571.1" cy="1953.5" r="12.6"/><circle cx="1565.9" cy="1955.1" r="12.6"/><circle cx="1564.9" cy="1954.2" r="12.6"/><circle cx="1566.9" cy="1952.8" r="12.6"/><circle cx="1467.9" cy="1956.2" r="12.6"/><circle cx="1459.6" cy="1953.6" r="12.6"/><circle cx="1467.9" cy="1956.9" r="12.6"/><circle cx="1467.6" cy="1957" r="12.6"/><circle cx="1659.3" cy="1989.5" r="12.6"/><circle cx="914.7" cy="2052.4" r="12.6"/><circle cx="1762.2" cy="1982.3" r="12.6"/><circle cx="1763.5" cy="1981.8" r="12.6"/><circle cx="1763.2" cy="1981.5" r="12.6"/><circle cx="1639.1" cy="1953" r="12.6"/><circle cx="1640.6" cy="1954" r="12.6"/><circle cx="1482.6" cy="1987.9" r="12.6"/><circle cx="1476.3" cy="1990.3" r="12.6"/><circle cx="1600.6" cy="1957.9" r="12.6"/><circle cx="1718.6" cy="1962.9" r="12.6"/><circle cx="1717.7" cy="1963.5" r="12.6"/><circle cx="1339.9" cy="1947.4" r="12.6"/><circle cx="1338.3" cy="1947.5" r="12.6"/><circle cx="1567.7" cy="1985.7" r="12.6"/><circle cx="1566.5" cy="1985.8" r="12.6"/><circle cx="1570" cy="1983.1" r="12.6"/><circle cx="1573.5" cy="1985.5" r="12.6"/><circle cx="1432.1" cy="1990.5" r="12.6"/><circle cx="1429.4" cy="1989" r="12.6"/><circle cx="1528.1" cy="1994.3" r="12.6"/><circle cx="1517.1" cy="1994.1" r="12.6"/><circle cx="1530.2" cy="1992.7" r="12.6"/><circle cx="1705.8" cy="1986.1" r="12.6"/><circle cx="1668.7" cy="1959.3" r="12.6"/><circle cx="1670.5" cy="1962.1" r="12.6"/><circle cx="1661.7" cy="1962.4" r="12.6"/><circle cx="1669.3" cy="1963.7" r="12.6"/><circle cx="1745.4" cy="1989.9" r="12.6"/><circle cx="1733.1" cy="1990.6" r="12.6"/><circle cx="1732.6" cy="1990" r="12.6"/><circle cx="1643.4" cy="1984.6" r="12.6"/><circle cx="1641.2" cy="1982.3" r="12.6"/><circle cx="1671.3" cy="1947.7" r="12.6"/><circle cx="1679" cy="1950.2" r="12.6"/><circle cx="1681.3" cy="1947.4" r="12.6"/><circle cx="1582.7" cy="1984" r="12.6"/><circle cx="1586.1" cy="1983.1" r="12.6"/><circle cx="1520.6" cy="1985.5" r="12.6"/><circle cx="1183.9" cy="2010.1" r="12.6"/><circle cx="1177.8" cy="2007.6" r="12.6"/><circle cx="1709.8" cy="1982.4" r="12.6"/><circle cx="1721" cy="1998.8" r="12.6"/><circle cx="1680.6" cy="1953" r="12.6"/><circle cx="1681" cy="1952.7" r="12.6"/><circle cx="1681.7" cy="1955.2" r="12.6"/><circle cx="1759.9" cy="1962.7" r="12.6"/><circle cx="1765.4" cy="1964.9" r="12.6"/><circle cx="1761.9" cy="1963.3" r="12.6"/><circle cx="1764" cy="1958.6" r="12.6"/><circle cx="1630.7" cy="1984.8" r="12.6"/><circle cx="1087.3" cy="1914.7" r="12.6"/><circle cx="1084.5" cy="1913" r="12.6"/><circle cx="1085.2" cy="1916.8" r="12.6"/><circle cx="1088.6" cy="1914.1" r="12.6"/><circle cx="1083.9" cy="1911.7" r="12.6"/><circle cx="1608.7" cy="1959.3" r="12.6"/><circle cx="1601.7" cy="1960.5" r="12.6"/><circle cx="1755.8" cy="1940.2" r="12.6"/><circle cx="1760.6" cy="1939.6" r="12.6"/><circle cx="1760.7" cy="1941.5" r="12.6"/><circle cx="1762.3" cy="1942.1" r="12.6"/><circle cx="1761.9" cy="1942.2" r="12.6"/><circle cx="1752.3" cy="1940.6" r="12.6"/><circle cx="1583.6" cy="1982.9" r="12.6"/><circle cx="1578.9" cy="1979.5" r="12.6"/><circle cx="1583" cy="1981.1" r="12.6"/><circle cx="1761.9" cy="1990.6" r="12.6"/><circle cx="1665.5" cy="1956.4" r="12.6"/><circle cx="1673.1" cy="1953.3" r="12.6"/><circle cx="1510.6" cy="1984.1" r="12.6"/><circle cx="1500.4" cy="1987" r="12.6"/><circle cx="1505.3" cy="1984.9" r="12.6"/><circle cx="1507.6" cy="1982.9" r="12.6"/><circle cx="1696.5" cy="1963.9" r="12.6"/><circle cx="1710.6" cy="1964.1" r="12.6"/><circle cx="1710.4" cy="1964.5" r="12.6"/><circle cx="1538.3" cy="1953.4" r="12.6"/><circle cx="1589.7" cy="1985.6" r="12.6"/><circle cx="1761.3" cy="1962.5" r="12.6"/><circle cx="1760.9" cy="1961.3" r="12.6"/><circle cx="1762.1" cy="1964.8" r="12.6"/><circle cx="1758.9" cy="1961.2" r="12.6"/><circle cx="1756.2" cy="1965.2" r="12.6"/><circle cx="1330.4" cy="1952.9" r="12.6"/><circle cx="1678.2" cy="1958.4" r="12.6"/><circle cx="1702.9" cy="1983.1" r="12.6"/><circle cx="1693.4" cy="1985.1" r="12.6"/><circle cx="1702" cy="1984.4" r="12.6"/><circle cx="1706.6" cy="1983.7" r="12.6"/><circle cx="1593" cy="1982.3" r="12.6"/><circle cx="1594.4" cy="1985.2" r="12.6"/><circle cx="1707.6" cy="1962.5" r="12.6"/><circle cx="1416.1" cy="1991.8" r="12.6"/><circle cx="1396.7" cy="1993.2" r="12.6"/><circle cx="1068.3" cy="1918.3" r="12.6"/><circle cx="1633.6" cy="1936.7" r="12.6"/><circle cx="1640.5" cy="1940.2" r="12.6"/><circle cx="1644.6" cy="1938.1" r="12.6"/><circle cx="1767.5" cy="1981.4" r="12.6"/><circle cx="1764.6" cy="1985.3" r="12.6"/><circle cx="1292.8" cy="2004" r="12.6"/><circle cx="1281.4" cy="2006.5" r="12.6"/><circle cx="1474.7" cy="1957.1" r="12.6"/><circle cx="1725" cy="1960.2" r="12.6"/><circle cx="1732" cy="1957.4" r="12.6"/><circle cx="1730.9" cy="1960.6" r="12.6"/><circle cx="1640.2" cy="1940" r="12.6"/><circle cx="1634.3" cy="1937.7" r="12.6"/><circle cx="1644.4" cy="1934.8" r="12.6"/><circle cx="1642.9" cy="1938.1" r="12.6"/><circle cx="1638.6" cy="1938.3" r="12.6"/><circle cx="1641.1" cy="1937.4" r="12.6"/><circle cx="1585.8" cy="1986.5" r="12.6"/><circle cx="1581.2" cy="1985.4" r="12.6"/><circle cx="1581.3" cy="1988.7" r="12.6"/><circle cx="1571.7" cy="1986.9" r="12.6"/><circle cx="1575.7" cy="1986.3" r="12.6"/><circle cx="1708.8" cy="1943.4" r="12.6"/><circle cx="1715.2" cy="1947.1" r="12.6"/><circle cx="1707" cy="1948.7" r="12.6"/><circle cx="1712.6" cy="1945" r="12.6"/><circle cx="1758.6" cy="1961.8" r="12.6"/><circle cx="1752.3" cy="1964.3" r="12.6"/><circle cx="1752.1" cy="1961.8" r="12.6"/><circle cx="1751.5" cy="1965.9" r="12.6"/><circle cx="957.7" cy="1901.2" r="12.6"/><circle cx="1573" cy="1989.3" r="12.6"/><circle cx="1581.9" cy="1987.8" r="12.6"/><circle cx="1383.8" cy="1952.6" r="12.6"/><circle cx="1385.9" cy="1952.8" r="12.6"/><circle cx="1382.1" cy="1951.2" r="12.6"/><circle cx="1376.8" cy="1952.3" r="12.6"/><circle cx="1381.6" cy="1951.9" r="12.6"/><circle cx="1388.6" cy="1953.3" r="12.6"/><circle cx="1714" cy="1985.6" r="12.6"/><circle cx="1767.5" cy="1959.5" r="12.6"/><circle cx="1767.5" cy="1955.4" r="12.6"/><circle cx="1560.3" cy="1957.8" r="12.6"/><circle cx="1499.3" cy="1959.2" r="12.6"/><circle cx="1512.6" cy="1958.4" r="12.6"/><circle cx="1511.1" cy="1958.7" r="12.6"/><circle cx="943.1" cy="2044.9" r="12.6"/><circle cx="939" cy="2041.8" r="12.6"/><circle cx="943.5" cy="2043.2" r="12.6"/><circle cx="1704.4" cy="1959.6" r="12.6"/><circle cx="1700" cy="1954.2" r="12.6"/><circle cx="1699.7" cy="1953.8" r="12.6"/><circle cx="1696.2" cy="1958.5" r="12.6"/><circle cx="1744.2" cy="1985.3" r="12.6"/><circle cx="1710.6" cy="1964.3" r="12.6"/><circle cx="1704.5" cy="1964.3" r="12.6"/><circle cx="1714.9" cy="1962.8" r="12.6"/><circle cx="1736.4" cy="1983.4" r="12.6"/><circle cx="1741.3" cy="1987.2" r="12.6"/><circle cx="1734.6" cy="1984" r="12.6"/><circle cx="1735.8" cy="1983.5" r="12.6"/><circle cx="1429.4" cy="1950.9" r="12.6"/><circle cx="1414.1" cy="1951.7" r="12.6"/><circle cx="1383.1" cy="1999.1" r="12.6"/><circle cx="1752" cy="1985.8" r="12.6"/><circle cx="1757.2" cy="1983.2" r="12.6"/><circle cx="1761.6" cy="1982.6" r="12.6"/><circle cx="1759.5" cy="1984.8" r="12.6"/><circle cx="1672.6" cy="1982.7" r="12.6"/><circle cx="1675.5" cy="1985" r="12.6"/><circle cx="1676.8" cy="1980.3" r="12.6"/><circle cx="1424.1" cy="1989.1" r="12.6"/><circle cx="1677.8" cy="1949" r="12.6"/><circle cx="1683.6" cy="1948.6" r="12.6"/><circle cx="1690.3" cy="1946.6" r="12.6"/><circle cx="1685.1" cy="1949.8" r="12.6"/><circle cx="1681.6" cy="1948" r="12.6"/><circle cx="1680" cy="1947.4" r="12.6"/><circle cx="1639" cy="1982.4" r="12.6"/><circle cx="1650.2" cy="1982.8" r="12.6"/><circle cx="1656.1" cy="1983.5" r="12.6"/><circle cx="1700.6" cy="1963.1" r="12.6"/><circle cx="1644.9" cy="1961.4" r="12.6"/><circle cx="1654.9" cy="1963.2" r="12.6"/><circle cx="1575.5" cy="1958.3" r="12.6"/><circle cx="1581.6" cy="1959.8" r="12.6"/><circle cx="1564.8" cy="1960" r="12.6"/><circle cx="1567.7" cy="1959" r="12.6"/><circle cx="1586.8" cy="1961.2" r="12.6"/><circle cx="1379.2" cy="1949.1" r="12.6"/><circle cx="1492.2" cy="1956.3" r="12.6"/><circle cx="1487.4" cy="1952.4" r="12.6"/><circle cx="1623.3" cy="1960.4" r="12.6"/><circle cx="1613.5" cy="1963" r="12.6"/><circle cx="1630.5" cy="1961.1" r="12.6"/><circle cx="1632.9" cy="1961.7" r="12.6"/><circle cx="1750.8" cy="1989.4" r="12.6"/><circle cx="1595" cy="1956.7" r="12.6"/><circle cx="1584.9" cy="1957.3" r="12.6"/><circle cx="1585.8" cy="1956.7" r="12.6"/><circle cx="1596.2" cy="1958.4" r="12.6"/><circle cx="1591.4" cy="1955.8" r="12.6"/><circle cx="1592" cy="1957" r="12.6"/><circle cx="1576.9" cy="1941.2" r="12.6"/><circle cx="1601.6" cy="1985.4" r="12.6"/><circle cx="1598.2" cy="1984.3" r="12.6"/><circle cx="1588.1" cy="1949.8" r="12.6"/><circle cx="1744.2" cy="1984.7" r="12.6"/><circle cx="1753.5" cy="1980.1" r="12.6"/><circle cx="1749.1" cy="1981.1" r="12.6"/><circle cx="1740.4" cy="1981.8" r="12.6"/><circle cx="1755.1" cy="1983.4" r="12.6"/><circle cx="1450.2" cy="1991.2" r="12.6"/><circle cx="1446.6" cy="1987.3" r="12.6"/><circle cx="1450.7" cy="1989.1" r="12.6"/><circle cx="1454.1" cy="1987.1" r="12.6"/><circle cx="1767.5" cy="1946.8" r="12.6"/><circle cx="1767.5" cy="1950.1" r="12.6"/><circle cx="1767.5" cy="1945.6" r="12.6"/><circle cx="1767.5" cy="1949.2" r="12.6"/><circle cx="1764.4" cy="1951.5" r="12.6"/><circle cx="1613.1" cy="1958.9" r="12.6"/><circle cx="1584.7" cy="1955.4" r="12.6"/><circle cx="1757.6" cy="1987.6" r="12.6"/><circle cx="1763.5" cy="1990.4" r="12.6"/><circle cx="1762.5" cy="1987.3" r="12.6"/><circle cx="1762" cy="1987.3" r="12.6"/><circle cx="1758.8" cy="1990" r="12.6"/><circle cx="1331.4" cy="1947.3" r="12.6"/><circle cx="1326.8" cy="1949.6" r="12.6"/><circle cx="1324.4" cy="1950.3" r="12.6"/><circle cx="1685.4" cy="1959.2" r="12.6"/><circle cx="1683.1" cy="1960.8" r="12.6"/><circle cx="1688.1" cy="1960.1" r="12.6"/><circle cx="1686.1" cy="1963.2" r="12.6"/><circle cx="1697.9" cy="1962.5" r="12.6"/><circle cx="1736.8" cy="1964" r="12.6"/><circle cx="1735.7" cy="1960.8" r="12.6"/><circle cx="1521.1" cy="1995.5" r="12.6"/><circle cx="1504.5" cy="1992.4" r="12.6"/><circle cx="1524.6" cy="1995.2" r="12.6"/><circle cx="1716.7" cy="1983.3" r="12.6"/><circle cx="1721" cy="1985.9" r="12.6"/><circle cx="1720.6" cy="1983.3" r="12.6"/><circle cx="1633.4" cy="1983.7" r="12.6"/><circle cx="1631.3" cy="1984.4" r="12.6"/><circle cx="1657.7" cy="1986.5" r="12.6"/><circle cx="1660.7" cy="1988.8" r="12.6"/><circle cx="1662.5" cy="1986.3" r="12.6"/><circle cx="1716.5" cy="1982.1" r="12.6"/><circle cx="1721.2" cy="1982.8" r="12.6"/><circle cx="1136.2" cy="1926.2" r="12.6"/><circle cx="1144.7" cy="1923.1" r="12.6"/><circle cx="1290" cy="1948.4" r="12.6"/><circle cx="1289.1" cy="1948.4" r="12.6"/><circle cx="1735.5" cy="1998.5" r="12.6"/><circle cx="1743.7" cy="1999.6" r="12.6"/><circle cx="1748.6" cy="1998.5" r="12.6"/><circle cx="1692.2" cy="1961.1" r="12.6"/><circle cx="1722.8" cy="1956.9" r="12.6"/><circle cx="1723" cy="1958" r="12.6"/><circle cx="1675.5" cy="1983" r="12.6"/><circle cx="1751.6" cy="1955" r="12.6"/><circle cx="1756.2" cy="1956.8" r="12.6"/><circle cx="1750.6" cy="1954.9" r="12.6"/><circle cx="1743" cy="1953.7" r="12.6"/><circle cx="1640.6" cy="1954.6" r="12.6"/><circle cx="1637.8" cy="1956.1" r="12.6"/><circle cx="1727.7" cy="1963.9" r="12.6"/><circle cx="1727.7" cy="1960.6" r="12.6"/><circle cx="1717.2" cy="1963.3" r="12.6"/><circle cx="1607.3" cy="1958.9" r="12.6"/><circle cx="1618.6" cy="1959.1" r="12.6"/><circle cx="1745.8" cy="1982.4" r="12.6"/><circle cx="1737.9" cy="1982" r="12.6"/><circle cx="1448.4" cy="1955.4" r="12.6"/><circle cx="1607.9" cy="1983.2" r="12.6"/><circle cx="1594.8" cy="1983.3" r="12.6"/><circle cx="1529.4" cy="1953.5" r="12.6"/><circle cx="1529.4" cy="1956.2" r="12.6"/><circle cx="1244.4" cy="1942.1" r="12.6"/><circle cx="1241" cy="1941.8" r="12.6"/><circle cx="1719.3" cy="1963" r="12.6"/><circle cx="1713.4" cy="1964" r="12.6"/><circle cx="1478.2" cy="1993.7" r="12.6"/><circle cx="1280.1" cy="1947" r="12.6"/><circle cx="1296" cy="1945.3" r="12.6"/><circle cx="1294.3" cy="1942" r="12.6"/><circle cx="1282.6" cy="1945.7" r="12.6"/><circle cx="1533" cy="1987.1" r="12.6"/><circle cx="1541.5" cy="1982.2" r="12.6"/><circle cx="1537.5" cy="1981.8" r="12.6"/><circle cx="1545.2" cy="1982.4" r="12.6"/><circle cx="1539.1" cy="1983.3" r="12.6"/><circle cx="1624.6" cy="2004.2" r="12.6"/><circle cx="1630.8" cy="2006.2" r="12.6"/><circle cx="1694.4" cy="1960.9" r="12.6"/><circle cx="1686.3" cy="1962.9" r="12.6"/><circle cx="1227.1" cy="1929.8" r="12.6"/><circle cx="1215.4" cy="1930.9" r="12.6"/><circle cx="1634.5" cy="1944.4" r="12.6"/><circle cx="1636.3" cy="1939.7" r="12.6"/><circle cx="1636.4" cy="1941" r="12.6"/><circle cx="1634.8" cy="1940.5" r="12.6"/><circle cx="1643.8" cy="1983.5" r="12.6"/><circle cx="1647" cy="1981.6" r="12.6"/><circle cx="1707" cy="1988.2" r="12.6"/><circle cx="1704.2" cy="1991.6" r="12.6"/><circle cx="1275.8" cy="1999.4" r="12.6"/><circle cx="1566.2" cy="1994.3" r="12.6"/><circle cx="1556.1" cy="1996.4" r="12.6"/><circle cx="1712.6" cy="1958.1" r="12.6"/><circle cx="1695.6" cy="1984.1" r="12.6"/><circle cx="1701.7" cy="1983.1" r="12.6"/><circle cx="1514.6" cy="1984.8" r="12.6"/><circle cx="1512.6" cy="1989" r="12.6"/><circle cx="1718.4" cy="1959.6" r="12.6"/><circle cx="1726.9" cy="1960.5" r="12.6"/><circle cx="1518.3" cy="1955.2" r="12.6"/><circle cx="1009.9" cy="1917.1" r="12.6"/><circle cx="1011.4" cy="1917.3" r="12.6"/><circle cx="1011.2" cy="1914.9" r="12.6"/><circle cx="1015.6" cy="1913.6" r="12.6"/><circle cx="1552.3" cy="1960.9" r="12.6"/><circle cx="1543.5" cy="1961" r="12.6"/><circle cx="1638.6" cy="1992.3" r="12.6"/><circle cx="1499.4" cy="1991.1" r="12.6"/><circle cx="1503.8" cy="1991.8" r="12.6"/><circle cx="1506.1" cy="1990.1" r="12.6"/><circle cx="1499" cy="1996" r="12.6"/><circle cx="1360.9" cy="1952.2" r="12.6"/><circle cx="1365.4" cy="1947.2" r="12.6"/><circle cx="1371.3" cy="1952" r="12.6"/><circle cx="1362.6" cy="1951.4" r="12.6"/><circle cx="1368.3" cy="1952.9" r="12.6"/><circle cx="1414.5" cy="1944.1" r="12.6"/><circle cx="1416.7" cy="1948.3" r="12.6"/><circle cx="1421.1" cy="1949.7" r="12.6"/><circle cx="1416" cy="1947.6" r="12.6"/><circle cx="1419" cy="1946.1" r="12.6"/><circle cx="1632" cy="1958.6" r="12.6"/><circle cx="1624.7" cy="1955.5" r="12.6"/><circle cx="1627.7" cy="1957.1" r="12.6"/><circle cx="1628.3" cy="1959.4" r="12.6"/><circle cx="1522.5" cy="1989.5" r="12.6"/><circle cx="1522.8" cy="1985.7" r="12.6"/><circle cx="1519.7" cy="1985" r="12.6"/><circle cx="1518.5" cy="1986.5" r="12.6"/><circle cx="1525.4" cy="1987.4" r="12.6"/><circle cx="1593.6" cy="1988.9" r="12.6"/><circle cx="1609.4" cy="1987.2" r="12.6"/><circle cx="1610.8" cy="1986.5" r="12.6"/><circle cx="1603.8" cy="1984.8" r="12.6"/><circle cx="1346.4" cy="1939.6" r="12.6"/><circle cx="1402.8" cy="2002.1" r="12.6"/><circle cx="1394.1" cy="1999" r="12.6"/><circle cx="1406" cy="1996" r="12.6"/><circle cx="1402.7" cy="1998" r="12.6"/><circle cx="1401.5" cy="1994.4" r="12.6"/><circle cx="1753.7" cy="1985" r="12.6"/><circle cx="1761.3" cy="1982.5" r="12.6"/><circle cx="1767.5" cy="1982.4" r="12.6"/><circle cx="1758.1" cy="1983.3" r="12.6"/><circle cx="1451.3" cy="1996.4" r="12.6"/><circle cx="1461.6" cy="1995" r="12.6"/><circle cx="1456.6" cy="1998.3" r="12.6"/><circle cx="1459.4" cy="1997.7" r="12.6"/><circle cx="1204.7" cy="1930" r="12.6"/><circle cx="1746.1" cy="1963.5" r="12.6"/><circle cx="1754.3" cy="1960.8" r="12.6"/><circle cx="1711.2" cy="2000.4" r="12.6"/><circle cx="1702.9" cy="2001.7" r="12.6"/><circle cx="1707.5" cy="1998.6" r="12.6"/><circle cx="1367.7" cy="1993.8" r="12.6"/><circle cx="1384.5" cy="1994.2" r="12.6"/><circle cx="1377.4" cy="1995.1" r="12.6"/><circle cx="1706.5" cy="1959.1" r="12.6"/><circle cx="1710.2" cy="1959" r="12.6"/><circle cx="1715.1" cy="1961" r="12.6"/><circle cx="1748.4" cy="1949.2" r="12.6"/><circle cx="1737.8" cy="1948.6" r="12.6"/><circle cx="1712.2" cy="1990.9" r="12.6"/><circle cx="1607.9" cy="1950.2" r="12.6"/><circle cx="1608.3" cy="1950.1" r="12.6"/><circle cx="1519.3" cy="1990.2" r="12.6"/><circle cx="1520.8" cy="1993.8" r="12.6"/><circle cx="1510.8" cy="1994.9" r="12.6"/><circle cx="1523.8" cy="1993" r="12.6"/><circle cx="1507.7" cy="1991.1" r="12.6"/><circle cx="1519.5" cy="1995.1" r="12.6"/><circle cx="1656.5" cy="1951.1" r="12.6"/><circle cx="1767.5" cy="1983.6" r="12.6"/><circle cx="1767.4" cy="1983.4" r="12.6"/><circle cx="1141.9" cy="2021.1" r="12.6"/><circle cx="1141.3" cy="2019.4" r="12.6"/><circle cx="1140.7" cy="2021.4" r="12.6"/><circle cx="1346.8" cy="1949.7" r="12.6"/><circle cx="1606.8" cy="1984.1" r="12.6"/><circle cx="1615.2" cy="1984.3" r="12.6"/><circle cx="1606.9" cy="1985.5" r="12.6"/><circle cx="1628" cy="1941.4" r="12.6"/><circle cx="1684.8" cy="1982.9" r="12.6"/><circle cx="1693.3" cy="1984" r="12.6"/><circle cx="1692.7" cy="1986.4" r="12.6"/><circle cx="1702.2" cy="1983.7" r="12.6"/><circle cx="1282.3" cy="1943.9" r="12.6"/><circle cx="1581.8" cy="2001" r="12.6"/><circle cx="1587.7" cy="2002.8" r="12.6"/><circle cx="1578.8" cy="2002.3" r="12.6"/><circle cx="1641.8" cy="1960.3" r="12.6"/><circle cx="1637.9" cy="1983.1" r="12.6"/><circle cx="1414.6" cy="1953.9" r="12.6"/><circle cx="1414.7" cy="1952.1" r="12.6"/><circle cx="1418.7" cy="1951.4" r="12.6"/><circle cx="1602.7" cy="1939" r="12.6"/><circle cx="1611" cy="1935.3" r="12.6"/><circle cx="1608.3" cy="1939.1" r="12.6"/><circle cx="1463.1" cy="1951.3" r="12.6"/><circle cx="1397.9" cy="1946.3" r="12.6"/><circle cx="1405.3" cy="1945.2" r="12.6"/><circle cx="1406.7" cy="1944.2" r="12.6"/><circle cx="1381.7" cy="1998.2" r="12.6"/><circle cx="1380" cy="1998.2" r="12.6"/><circle cx="1381.7" cy="1996.9" r="12.6"/><circle cx="1616.3" cy="1991.4" r="12.6"/><circle cx="1625.4" cy="1989.8" r="12.6"/><circle cx="1613.8" cy="1961.1" r="12.6"/><circle cx="1609.5" cy="1961.6" r="12.6"/><circle cx="1628.3" cy="1980.3" r="12.6"/><circle cx="1627.4" cy="1983.1" r="12.6"/><circle cx="1648.9" cy="1960.1" r="12.6"/><circle cx="1651.5" cy="1957.9" r="12.6"/><circle cx="1695" cy="1957.8" r="12.6"/><circle cx="1487.1" cy="1951.4" r="12.6"/><circle cx="1483.5" cy="1946.6" r="12.6"/><circle cx="1483.2" cy="1949" r="12.6"/><circle cx="1479.6" cy="1948" r="12.6"/><circle cx="1399.8" cy="1997.1" r="12.6"/><circle cx="1516.5" cy="1951.6" r="12.6"/><circle cx="1640.6" cy="1952.9" r="12.6"/><circle cx="1644.6" cy="1951.3" r="12.6"/><circle cx="1507.4" cy="1953.1" r="12.6"/><circle cx="1491" cy="1953.4" r="12.6"/><circle cx="1767.5" cy="1962.9" r="12.6"/><circle cx="1741.1" cy="1983.7" r="12.6"/><circle cx="1748.3" cy="1987.4" r="12.6"/><circle cx="1761.9" cy="1961.8" r="12.6"/><circle cx="1665.8" cy="1960" r="12.6"/><circle cx="1658.3" cy="1958.3" r="12.6"/><circle cx="1665.7" cy="1958" r="12.6"/><circle cx="1666.4" cy="1955.2" r="12.6"/><circle cx="1660.8" cy="1958.3" r="12.6"/><circle cx="1584.7" cy="1955.7" r="12.6"/><circle cx="1645.8" cy="1989.5" r="12.6"/><circle cx="1656.4" cy="1989.4" r="12.6"/><circle cx="1647.1" cy="1987.8" r="12.6"/><circle cx="1759.6" cy="1960.2" r="12.6"/><circle cx="1756.4" cy="1961.2" r="12.6"/><circle cx="1754.6" cy="1962" r="12.6"/><circle cx="1314.9" cy="1949.1" r="12.6"/><circle cx="1433.2" cy="1989.1" r="12.6"/><circle cx="1427.5" cy="1987" r="12.6"/><circle cx="1412" cy="2006.6" r="12.6"/><circle cx="1419.3" cy="2007.6" r="12.6"/><circle cx="1692.1" cy="1991.6" r="12.6"/><circle cx="1594.8" cy="1940.6" r="12.6"/><circle cx="1591" cy="1937.2" r="12.6"/><circle cx="1633.4" cy="1954.9" r="12.6"/><circle cx="1618.1" cy="1956.1" r="12.6"/><circle cx="1668.3" cy="1955" r="12.6"/><circle cx="1661" cy="1955.3" r="12.6"/><circle cx="1661.7" cy="1955.7" r="12.6"/><circle cx="1724.5" cy="1956.5" r="12.6"/><circle cx="1725" cy="1958.8" r="12.6"/><circle cx="1728.2" cy="1957.2" r="12.6"/><circle cx="1733.8" cy="1956.8" r="12.6"/><circle cx="1654.7" cy="1955.4" r="12.6"/><circle cx="1652.8" cy="1953.5" r="12.6"/><circle cx="1444.6" cy="1991.2" r="12.6"/><circle cx="1453.9" cy="1994.1" r="12.6"/><circle cx="1456.2" cy="1995.8" r="12.6"/><circle cx="1441.9" cy="1955.7" r="12.6"/><circle cx="1456.1" cy="1954.7" r="12.6"/><circle cx="1448.4" cy="1953.8" r="12.6"/><circle cx="1508.5" cy="1960.3" r="12.6"/><circle cx="1488.2" cy="1989" r="12.6"/><circle cx="1584.1" cy="1998.6" r="12.6"/><circle cx="1585.7" cy="1998.9" r="12.6"/><circle cx="1597.8" cy="2003" r="12.6"/><circle cx="1586.4" cy="2001.6" r="12.6"/><circle cx="1711.2" cy="1986.5" r="12.6"/><circle cx="1714.5" cy="1986" r="12.6"/><circle cx="1715.5" cy="1989.4" r="12.6"/><circle cx="1697.5" cy="1940.6" r="12.6"/><circle cx="1740.2" cy="1990" r="12.6"/><circle cx="1729.8" cy="1989.7" r="12.6"/><circle cx="1665.8" cy="1937.1" r="12.6"/><circle cx="1620.8" cy="1955.1" r="12.6"/><circle cx="1632" cy="1953.2" r="12.6"/><circle cx="1633.3" cy="1954.3" r="12.6"/><circle cx="1634.1" cy="1955" r="12.6"/><circle cx="1695.8" cy="1944.6" r="12.6"/><circle cx="1690.6" cy="1945.1" r="12.6"/><circle cx="1689" cy="1949.7" r="12.6"/><circle cx="1691.1" cy="1950.9" r="12.6"/><circle cx="1245.9" cy="1935.8" r="12.6"/><circle cx="1230.3" cy="1939.2" r="12.6"/><circle cx="1238" cy="1934.9" r="12.6"/><circle cx="1237.5" cy="1934.9" r="12.6"/><circle cx="1238" cy="1936.3" r="12.6"/><circle cx="1504" cy="1952.5" r="12.6"/><circle cx="1502.1" cy="1949.4" r="12.6"/><circle cx="1762.7" cy="1990.7" r="12.6"/><circle cx="1757.9" cy="1991.4" r="12.6"/><circle cx="1738.7" cy="1959.1" r="12.6"/><circle cx="1742.3" cy="1962.3" r="12.6"/><circle cx="1732.4" cy="1961.4" r="12.6"/><circle cx="1732.1" cy="1955.9" r="12.6"/><circle cx="1729" cy="1957.7" r="12.6"/><circle cx="1732.6" cy="1957.3" r="12.6"/><circle cx="1176.5" cy="1930" r="12.6"/><circle cx="1176.1" cy="1936" r="12.6"/><circle cx="1545.3" cy="1986.9" r="12.6"/><circle cx="1544.9" cy="1986.6" r="12.6"/><circle cx="1402.1" cy="1997.4" r="12.6"/><circle cx="1403" cy="1997.9" r="12.6"/><circle cx="1403.9" cy="1994.9" r="12.6"/><circle cx="1395.7" cy="1994.7" r="12.6"/><circle cx="1622.3" cy="1955.4" r="12.6"/><circle cx="1619.5" cy="1957.4" r="12.6"/><circle cx="1626.8" cy="1954.1" r="12.6"/><circle cx="1630.9" cy="1958" r="12.6"/><circle cx="1626.6" cy="1955.4" r="12.6"/><circle cx="1573.7" cy="1958.9" r="12.6"/><circle cx="1572.8" cy="1960.7" r="12.6"/><circle cx="1576.1" cy="1960.8" r="12.6"/><circle cx="1570.3" cy="1959.2" r="12.6"/><circle cx="1390.5" cy="1948.4" r="12.6"/><circle cx="1418.4" cy="1948.6" r="12.6"/><circle cx="1408.3" cy="1950.4" r="12.6"/><circle cx="1691.9" cy="1950.9" r="12.6"/><circle cx="1697.9" cy="1981.6" r="12.6"/><circle cx="1003.2" cy="2032.1" r="12.6"/><circle cx="1247.5" cy="2017" r="12.6"/><circle cx="1257.3" cy="2015.5" r="12.6"/><circle cx="1252.4" cy="2016.8" r="12.6"/><circle cx="1753.5" cy="1964.6" r="12.6"/><circle cx="1465.9" cy="1956.5" r="12.6"/><circle cx="1455.3" cy="1954.3" r="12.6"/><circle cx="1457.7" cy="1955.9" r="12.6"/><circle cx="1455.2" cy="1956.6" r="12.6"/><circle cx="1749.9" cy="1949.3" r="12.6"/><circle cx="1661.9" cy="1981.4" r="12.6"/><circle cx="1664.6" cy="1983.6" r="12.6"/><circle cx="1757.8" cy="1983.2" r="12.6"/><circle cx="1751.6" cy="1981.3" r="12.6"/><circle cx="1349.7" cy="2001.2" r="12.6"/><circle cx="1531.2" cy="1953.8" r="12.6"/><circle cx="1135.7" cy="2019.7" r="12.6"/><circle cx="1138.4" cy="2014.9" r="12.6"/><circle cx="1497.4" cy="1937" r="12.6"/><circle cx="1349.3" cy="2001.8" r="12.6"/><circle cx="1347.2" cy="2003.4" r="12.6"/><circle cx="1197.3" cy="2011.1" r="12.6"/><circle cx="1190" cy="2012.1" r="12.6"/><circle cx="1189.2" cy="2011.5" r="12.6"/><circle cx="1731.1" cy="1960" r="12.6"/><circle cx="1576.5" cy="1954.1" r="12.6"/><circle cx="1562.2" cy="1954.8" r="12.6"/><circle cx="1571.6" cy="1954" r="12.6"/><circle cx="1644.3" cy="1958.9" r="12.6"/><circle cx="1651.7" cy="1956.3" r="12.6"/><circle cx="1648" cy="1957.2" r="12.6"/><circle cx="1642.9" cy="1953.7" r="12.6"/><circle cx="1386.4" cy="1953.5" r="12.6"/><circle cx="1390.1" cy="1950.7" r="12.6"/><circle cx="1400" cy="1947.8" r="12.6"/><circle cx="1583.9" cy="1957.6" r="12.6"/><circle cx="1630.4" cy="1983.6" r="12.6"/><circle cx="1631.3" cy="1982.6" r="12.6"/><circle cx="1628.5" cy="1982.3" r="12.6"/><circle cx="1482.6" cy="1988.7" r="12.6"/><circle cx="1476.5" cy="1993.2" r="12.6"/><circle cx="1704.8" cy="1950.8" r="12.6"/><circle cx="1734.4" cy="1960.7" r="12.6"/><circle cx="1742.3" cy="1963.7" r="12.6"/><circle cx="1739.1" cy="1961.5" r="12.6"/><circle cx="1744" cy="1963" r="12.6"/><circle cx="1595.1" cy="1985.5" r="12.6"/><circle cx="1599.1" cy="1985.8" r="12.6"/><circle cx="1599.5" cy="1957.4" r="12.6"/><circle cx="1592.4" cy="1956.6" r="12.6"/><circle cx="1666.2" cy="1960.3" r="12.6"/><circle cx="1613.3" cy="1993.4" r="12.6"/><circle cx="1616.1" cy="1991.1" r="12.6"/><circle cx="1466.2" cy="1995" r="12.6"/><circle cx="1469.3" cy="1992.2" r="12.6"/><circle cx="1470.7" cy="1991.5" r="12.6"/><circle cx="1507.4" cy="1987.4" r="12.6"/><circle cx="1495.3" cy="1982.4" r="12.6"/><circle cx="1597.3" cy="1959.5" r="12.6"/><circle cx="1592.8" cy="1958.2" r="12.6"/><circle cx="1593.1" cy="1960.6" r="12.6"/><circle cx="1587.6" cy="1960.8" r="12.6"/><circle cx="1559.1" cy="1985.1" r="12.6"/><circle cx="1403.9" cy="1992.2" r="12.6"/><circle cx="1667.4" cy="1961.9" r="12.6"/><circle cx="1531.7" cy="1987.3" r="12.6"/><circle cx="1527.6" cy="1985.6" r="12.6"/><circle cx="1529" cy="1984.9" r="12.6"/><circle cx="1350.1" cy="1952.3" r="12.6"/><circle cx="1676.1" cy="1985.7" r="12.6"/><circle cx="1336.5" cy="1949.1" r="12.6"/><circle cx="1343.4" cy="1949.3" r="12.6"/><circle cx="1352" cy="1947.8" r="12.6"/><circle cx="1573.9" cy="1986.2" r="12.6"/><circle cx="1576.5" cy="1983.6" r="12.6"/><circle cx="1575.5" cy="1986.7" r="12.6"/><circle cx="1256.2" cy="1999.7" r="12.6"/><circle cx="1588.4" cy="1994" r="12.6"/><circle cx="1340.1" cy="1948.1" r="12.6"/><circle cx="1612.1" cy="1949.3" r="12.6"/><circle cx="1616" cy="1950.2" r="12.6"/><circle cx="1620.3" cy="1949.2" r="12.6"/><circle cx="1619.7" cy="1951.6" r="12.6"/><circle cx="1622.1" cy="1952.9" r="12.6"/><circle cx="1612.5" cy="1949.2" r="12.6"/><circle cx="1713.2" cy="1937.3" r="12.6"/><circle cx="1716" cy="1936.8" r="12.6"/><circle cx="1716.8" cy="1937.7" r="12.6"/><circle cx="1719.8" cy="1937.9" r="12.6"/><circle cx="1742" cy="1953.8" r="12.6"/><circle cx="1354.5" cy="1937.1" r="12.6"/><circle cx="1363.2" cy="1936" r="12.6"/><circle cx="1622.2" cy="1987.3" r="12.6"/><circle cx="1620.1" cy="1983.6" r="12.6"/><circle cx="1626.7" cy="1988.5" r="12.6"/><circle cx="1433.1" cy="1950.1" r="12.6"/><circle cx="1435.7" cy="1951.7" r="12.6"/><circle cx="1335.6" cy="1994.9" r="12.6"/><circle cx="1326.1" cy="1995.6" r="12.6"/><circle cx="1319.2" cy="1992.5" r="12.6"/><circle cx="1317.1" cy="1995.3" r="12.6"/><circle cx="1326.6" cy="1995.1" r="12.6"/><circle cx="1734" cy="1962.7" r="12.6"/><circle cx="1675" cy="1947.6" r="12.6"/><circle cx="1710.9" cy="1960.8" r="12.6"/><circle cx="1703.7" cy="1960.8" r="12.6"/><circle cx="1694.3" cy="1960.3" r="12.6"/><circle cx="1699.8" cy="1961.5" r="12.6"/><circle cx="1697" cy="1962" r="12.6"/><circle cx="1510.7" cy="1992.3" r="12.6"/><circle cx="1497.3" cy="1992.3" r="12.6"/><circle cx="1490.7" cy="1995.3" r="12.6"/><circle cx="1499.6" cy="1997.2" r="12.6"/><circle cx="1491.8" cy="1993.7" r="12.6"/><circle cx="1589.7" cy="2002.1" r="12.6"/><circle cx="1591.9" cy="2000.2" r="12.6"/><circle cx="1603.6" cy="1998.9" r="12.6"/><circle cx="1745.5" cy="1963.6" r="12.6"/><circle cx="1767.5" cy="1984" r="12.6"/><circle cx="1767.5" cy="1981.5" r="12.6"/><circle cx="1350" cy="1942.1" r="12.6"/><circle cx="1459.1" cy="1955.1" r="12.6"/><circle cx="1467.2" cy="1953.6" r="12.6"/><circle cx="1718.5" cy="1963" r="12.6"/><circle cx="1722.4" cy="1966.1" r="12.6"/><circle cx="1718.8" cy="1964.9" r="12.6"/><circle cx="1712.9" cy="1961.4" r="12.6"/><circle cx="1361.1" cy="1994.2" r="12.6"/><circle cx="1360.2" cy="1996.1" r="12.6"/><circle cx="1553" cy="1988" r="12.6"/><circle cx="1566" cy="1988.4" r="12.6"/><circle cx="1564.4" cy="1987.8" r="12.6"/><circle cx="1567.2" cy="1985.9" r="12.6"/><circle cx="1563.8" cy="1986.8" r="12.6"/><circle cx="1240.8" cy="1943.6" r="12.6"/><circle cx="1513.3" cy="1956.5" r="12.6"/><circle cx="1499.4" cy="1956.5" r="12.6"/><circle cx="1270.4" cy="1941.9" r="12.6"/><circle cx="1275.5" cy="1943.5" r="12.6"/><circle cx="1587.1" cy="1953" r="12.6"/><circle cx="1512.2" cy="1989.8" r="12.6"/><circle cx="1513.8" cy="1986.6" r="12.6"/><circle cx="1505.4" cy="1989.6" r="12.6"/><circle cx="1179" cy="1937" r="12.6"/><circle cx="1698.8" cy="1954.4" r="12.6"/><circle cx="1707.2" cy="1954.4" r="12.6"/><circle cx="1708.5" cy="1954.5" r="12.6"/><circle cx="1706.2" cy="1955.5" r="12.6"/><circle cx="1281.1" cy="1945.1" r="12.6"/><circle cx="1272.8" cy="1944.8" r="12.6"/><circle cx="1395.5" cy="1986.1" r="12.6"/><circle cx="1725.2" cy="1991" r="12.6"/><circle cx="1720" cy="1990.1" r="12.6"/><circle cx="1710" cy="1989.2" r="12.6"/><circle cx="1717.9" cy="1988.4" r="12.6"/><circle cx="1703.7" cy="1993.9" r="12.6"/><circle cx="1706.3" cy="1992.4" r="12.6"/><circle cx="1706.3" cy="1992.6" r="12.6"/><circle cx="1374.3" cy="1951.6" r="12.6"/><circle cx="1366.8" cy="1952.2" r="12.6"/><circle cx="1372.3" cy="1950.3" r="12.6"/><circle cx="1376.5" cy="1952.6" r="12.6"/><circle cx="1378.8" cy="1949.7" r="12.6"/><circle cx="1767.2" cy="1981.7" r="12.6"/><circle cx="1760.2" cy="1985.5" r="12.6"/><circle cx="1760.8" cy="1982.6" r="12.6"/><circle cx="1350.8" cy="2002.2" r="12.6"/><circle cx="1357.1" cy="2001.3" r="12.6"/><circle cx="1361.1" cy="2002.4" r="12.6"/><circle cx="1361.8" cy="1998.7" r="12.6"/><circle cx="1570.2" cy="1992.8" r="12.6"/><circle cx="1581.6" cy="1992.2" r="12.6"/><circle cx="1567.4" cy="1992.5" r="12.6"/><circle cx="1588.8" cy="1996.6" r="12.6"/><circle cx="1668.4" cy="1982.9" r="12.6"/><circle cx="1669.6" cy="1985.8" r="12.6"/><circle cx="1680.8" cy="1983" r="12.6"/><circle cx="1687.5" cy="1984.6" r="12.6"/><circle cx="1681.3" cy="1986.9" r="12.6"/><circle cx="1686.3" cy="1987.7" r="12.6"/><circle cx="1703.4" cy="1987.4" r="12.6"/><circle cx="1714.5" cy="1983.5" r="12.6"/><circle cx="1530.6" cy="1953.7" r="12.6"/><circle cx="1549.4" cy="1952.3" r="12.6"/><circle cx="1546.3" cy="1952.1" r="12.6"/><circle cx="1754.3" cy="1980.7" r="12.6"/><circle cx="1764.7" cy="1983" r="12.6"/><circle cx="1751.8" cy="1980.6" r="12.6"/><circle cx="1460.1" cy="2006.1" r="12.6"/><circle cx="1456.8" cy="2002.3" r="12.6"/><circle cx="1453" cy="2005.5" r="12.6"/><circle cx="1450.1" cy="2000.7" r="12.6"/><circle cx="1674.2" cy="1987.7" r="12.6"/><circle cx="1676.7" cy="1986.9" r="12.6"/><circle cx="1725.5" cy="1966.6" r="12.6"/><circle cx="1723.5" cy="1964.3" r="12.6"/><circle cx="1723.8" cy="1963.5" r="12.6"/><circle cx="1722.6" cy="1962.7" r="12.6"/><circle cx="1298.1" cy="1995.9" r="12.6"/><circle cx="1717.1" cy="1990.5" r="12.6"/><circle cx="1717" cy="1990.7" r="12.6"/><circle cx="1586.6" cy="1958.5" r="12.6"/><circle cx="1194.2" cy="2008.7" r="12.6"/><circle cx="1735.6" cy="1981.6" r="12.6"/><circle cx="1226.3" cy="1942.3" r="12.6"/><circle cx="1220.8" cy="1939.5" r="12.6"/><circle cx="1229.1" cy="1941.9" r="12.6"/><circle cx="1709.1" cy="1956.1" r="12.6"/><circle cx="1699.5" cy="1960.3" r="12.6"/><circle cx="1713.9" cy="1981.4" r="12.6"/><circle cx="1704.1" cy="1982.7" r="12.6"/><circle cx="1700" cy="1985" r="12.6"/><circle cx="1701" cy="1985.5" r="12.6"/><circle cx="1706.3" cy="1983.1" r="12.6"/><circle cx="1380.7" cy="1998.7" r="12.6"/><circle cx="1754.8" cy="1956.2" r="12.6"/><circle cx="1752.2" cy="1958.8" r="12.6"/><circle cx="1747.7" cy="1958.9" r="12.6"/><circle cx="1755.2" cy="1959.7" r="12.6"/><circle cx="1716.6" cy="1995.3" r="12.6"/><circle cx="1704.8" cy="1999.4" r="12.6"/><circle cx="1702.1" cy="1997" r="12.6"/><circle cx="1363.5" cy="1945.1" r="12.6"/><circle cx="1270.9" cy="1939.2" r="12.6"/><circle cx="1231.5" cy="1941.3" r="12.6"/><circle cx="1235.3" cy="1942.7" r="12.6"/><circle cx="1230.1" cy="1943" r="12.6"/><circle cx="1750.7" cy="1989.2" r="12.6"/><circle cx="1750.6" cy="1986.9" r="12.6"/><circle cx="1567" cy="1983.7" r="12.6"/><circle cx="1558.3" cy="1986" r="12.6"/><circle cx="1558.7" cy="1987.7" r="12.6"/><circle cx="1552.9" cy="1987" r="12.6"/><circle cx="1552.2" cy="1983.3" r="12.6"/><circle cx="1752" cy="1956.5" r="12.6"/><circle cx="1557" cy="1996.2" r="12.6"/><circle cx="1711.6" cy="1952.3" r="12.6"/><circle cx="1714.1" cy="1958.5" r="12.6"/><circle cx="1724.4" cy="1958.3" r="12.6"/><circle cx="1715.2" cy="1954.9" r="12.6"/><circle cx="1655.3" cy="1945.7" r="12.6"/><circle cx="1627.3" cy="1958.9" r="12.6"/><circle cx="1672.9" cy="1951.3" r="12.6"/><circle cx="1674.9" cy="1950.4" r="12.6"/><circle cx="1525.3" cy="1994.9" r="12.6"/><circle cx="1517.4" cy="1995.2" r="12.6"/><circle cx="1631.1" cy="1984.8" r="12.6"/><circle cx="1635.2" cy="1987.3" r="12.6"/><circle cx="1642.1" cy="1985.1" r="12.6"/><circle cx="1637.6" cy="1987.3" r="12.6"/><circle cx="1651" cy="1986.7" r="12.6"/><circle cx="1655.1" cy="1990.1" r="12.6"/><circle cx="1651.4" cy="1989.3" r="12.6"/><circle cx="1709.6" cy="1957.5" r="12.6"/><circle cx="1731.4" cy="1981.6" r="12.6"/><circle cx="1719.1" cy="1981.8" r="12.6"/><circle cx="1350.2" cy="2009.9" r="12.6"/><circle cx="1633.8" cy="1987.2" r="12.6"/><circle cx="1643.1" cy="1986.7" r="12.6"/><circle cx="1623.2" cy="1988.4" r="12.6"/><circle cx="1748" cy="1980.3" r="12.6"/><circle cx="1740.5" cy="1981.8" r="12.6"/><circle cx="1736.5" cy="1979.3" r="12.6"/><circle cx="1724" cy="1953.7" r="12.6"/><circle cx="1719.7" cy="1954.6" r="12.6"/><circle cx="1727.3" cy="1955.2" r="12.6"/><circle cx="1269.5" cy="1942.2" r="12.6"/><circle cx="1706.5" cy="1984.4" r="12.6"/><circle cx="1512.8" cy="1996.4" r="12.6"/><circle cx="1517" cy="1992" r="12.6"/><circle cx="1431.4" cy="1941.8" r="12.6"/><circle cx="1438.3" cy="1945.9" r="12.6"/><circle cx="1438.1" cy="1941.9" r="12.6"/><circle cx="1438.9" cy="1941.9" r="12.6"/><circle cx="1433.3" cy="1947.4" r="12.6"/><circle cx="1276.7" cy="1944.7" r="12.6"/><circle cx="1618.8" cy="1947.1" r="12.6"/><circle cx="1620.3" cy="1945.2" r="12.6"/><circle cx="1592.3" cy="1941.4" r="12.6"/><circle cx="1590.5" cy="1940.9" r="12.6"/><circle cx="1571.5" cy="1940.3" r="12.6"/><circle cx="1571.2" cy="1991.8" r="12.6"/><circle cx="1569.6" cy="1991.1" r="12.6"/><circle cx="1411.4" cy="1951.1" r="12.6"/><circle cx="1404.9" cy="1951.1" r="12.6"/><circle cx="1402" cy="1952" r="12.6"/><circle cx="1700.8" cy="1989" r="12.6"/><circle cx="1705.4" cy="1987.3" r="12.6"/><circle cx="1702" cy="1985" r="12.6"/><circle cx="1742.5" cy="1952.2" r="12.6"/><circle cx="1388" cy="1996.5" r="12.6"/><circle cx="1374.2" cy="1994.3" r="12.6"/><circle cx="1380.1" cy="1997.8" r="12.6"/><circle cx="1361.4" cy="1993.3" r="12.6"/><circle cx="1362.1" cy="1992.6" r="12.6"/><circle cx="1352.9" cy="1995.5" r="12.6"/>
</g>
<g fill="#558CBE">
<circle cx="424.8" cy="1642.3" r="12.6"/><circle cx="545.1" cy="1746.4" r="12.6"/><circle cx="848" cy="1866.7" r="12.6"/><circle cx="960.6" cy="1852.2" r="12.6"/><circle cx="1034.2" cy="1919.7" r="12.6"/><circle cx="1058.8" cy="1906.1" r="12.6"/><circle cx="1033.4" cy="1919.9" r="12.6"/><circle cx="1114" cy="1931.5" r="12.6"/><circle cx="1215" cy="1921.4" r="12.6"/><circle cx="1203.4" cy="1941.7" r="12.6"/><circle cx="857.6" cy="2110.1" r="12.6"/><circle cx="960.4" cy="2044.3" r="12.6"/><circle cx="1083.4" cy="2025.9" r="12.6"/><circle cx="1197.7" cy="2035.5" r="12.6"/><circle cx="1215.8" cy="1917.5" r="12.6"/><circle cx="1205.2" cy="2041.4" r="12.6"/><circle cx="1265.2" cy="2024" r="12.6"/><circle cx="1674.7" cy="2010.5" r="12.6"/><circle cx="1605.5" cy="1988.7" r="12.6"/><circle cx="1341.2" cy="1947.2" r="12.6"/><circle cx="1688.4" cy="1953.1" r="12.6"/><circle cx="1200.8" cy="2007" r="12.6"/><circle cx="1682.2" cy="1960.1" r="12.6"/><circle cx="1343.6" cy="1938.7" r="12.6"/><circle cx="1650.7" cy="1956.8" r="12.6"/><circle cx="1331.6" cy="1995.8" r="12.6"/><circle cx="1630" cy="1983.2" r="12.6"/><circle cx="1759.9" cy="1956.6" r="12.6"/><circle cx="1439.5" cy="1954.3" r="12.6"/><circle cx="1578.2" cy="1989" r="12.6"/><circle cx="1548" cy="1951.8" r="12.6"/><circle cx="1307.7" cy="2002" r="12.6"/><circle cx="1207.2" cy="1937.8" r="12.6"/><circle cx="1479" cy="1945.7" r="12.6"/><circle cx="1754.9" cy="1984.7" r="12.6"/><circle cx="1765.8" cy="1982.2" r="12.6"/><circle cx="1572.3" cy="1990.3" r="12.6"/><circle cx="1616.7" cy="1983.2" r="12.6"/><circle cx="1604.1" cy="1957.7" r="12.6"/><circle cx="1611.6" cy="1949.1" r="12.6"/><circle cx="1583.2" cy="1986.2" r="12.6"/><circle cx="1537.3" cy="1954.2" r="12.6"/><circle cx="1694.9" cy="1964.6" r="12.6"/><circle cx="1681.7" cy="1957.8" r="12.6"/><circle cx="1450.8" cy="1990.4" r="12.6"/><circle cx="1449.9" cy="1987.4" r="12.6"/><circle cx="1761.8" cy="1984.8" r="12.6"/><circle cx="1758.6" cy="1984.5" r="12.6"/><circle cx="1633.4" cy="1948.6" r="12.6"/><circle cx="1615.2" cy="1952.4" r="12.6"/><circle cx="1354.2" cy="1948.6" r="12.6"/><circle cx="1710.4" cy="1984.9" r="12.6"/><circle cx="1580" cy="1983.2" r="12.6"/><circle cx="1582.2" cy="1984.8" r="12.6"/><circle cx="1724.5" cy="1993.9" r="12.6"/><circle cx="1602.6" cy="1958.1" r="12.6"/><circle cx="1666.1" cy="1951.3" r="12.6"/><circle cx="1674" cy="1949.7" r="12.6"/><circle cx="1536.8" cy="1954.2" r="12.6"/><circle cx="1335.4" cy="1950.7" r="12.6"/><circle cx="1679.9" cy="1958.1" r="12.6"/><circle cx="1601.3" cy="1981.2" r="12.6"/><circle cx="1763.3" cy="1982.5" r="12.6"/><circle cx="1766.2" cy="1984.7" r="12.6"/><circle cx="1755" cy="1963" r="12.6"/><circle cx="1506" cy="1959.7" r="12.6"/><circle cx="1740.8" cy="1982.4" r="12.6"/><circle cx="1752.7" cy="1985.2" r="12.6"/><circle cx="1641.8" cy="1983.5" r="12.6"/><circle cx="1600.7" cy="1958.4" r="12.6"/><circle cx="1685.6" cy="1955.4" r="12.6"/><circle cx="1734.2" cy="1964.9" r="12.6"/><circle cx="1716.9" cy="1985.5" r="12.6"/><circle cx="1733.8" cy="1958" r="12.6"/><circle cx="1731.1" cy="1953.7" r="12.6"/><circle cx="1737.6" cy="1982.7" r="12.6"/><circle cx="1729.4" cy="1980.3" r="12.6"/><circle cx="1446.4" cy="1955.5" r="12.6"/><circle cx="1237.6" cy="1944.9" r="12.6"/><circle cx="1716.5" cy="1964.3" r="12.6"/><circle cx="1279.2" cy="1999.3" r="12.6"/><circle cx="1692.6" cy="1985.7" r="12.6"/><circle cx="1710.4" cy="1961.7" r="12.6"/><circle cx="1511.8" cy="1956.5" r="12.6"/><circle cx="1502.1" cy="1986.9" r="12.6"/><circle cx="1498.8" cy="1989.5" r="12.6"/><circle cx="1204.1" cy="1924.6" r="12.6"/><circle cx="1375.3" cy="1991.3" r="12.6"/><circle cx="1374.7" cy="1992.9" r="12.6"/><circle cx="1767.5" cy="1979.2" r="12.6"/><circle cx="1636.7" cy="1960.1" r="12.6"/><circle cx="1602.6" cy="1960.4" r="12.6"/><circle cx="1644.1" cy="1959.8" r="12.6"/><circle cx="1506.1" cy="1953.2" r="12.6"/><circle cx="1462" cy="1996.3" r="12.6"/><circle cx="1725.1" cy="1987" r="12.6"/><circle cx="1731.7" cy="1963.2" r="12.6"/><circle cx="1728.6" cy="1955.8" r="12.6"/><circle cx="1365.5" cy="1992" r="12.6"/><circle cx="1538.9" cy="1988.3" r="12.6"/><circle cx="1711.6" cy="1981.1" r="12.6"/><circle cx="1440.9" cy="1996.1" r="12.6"/><circle cx="1457.4" cy="1953.7" r="12.6"/><circle cx="1750.7" cy="1951.3" r="12.6"/><circle cx="1516.5" cy="1952.8" r="12.6"/><circle cx="1647.9" cy="1957.9" r="12.6"/><circle cx="1465.2" cy="1992.3" r="12.6"/><circle cx="1590.1" cy="1958.8" r="12.6"/><circle cx="1667.7" cy="1958.3" r="12.6"/><circle cx="1346.5" cy="1948.1" r="12.6"/><circle cx="1623.4" cy="1985.2" r="12.6"/><circle cx="1435.3" cy="1952.6" r="12.6"/><circle cx="1493.8" cy="1996.3" r="12.6"/><circle cx="1565.2" cy="1990.8" r="12.6"/><circle cx="1400.1" cy="1991.2" r="12.6"/><circle cx="1368.7" cy="1953.5" r="12.6"/><circle cx="1450.8" cy="1947.1" r="12.6"/><circle cx="1354" cy="2001.6" r="12.6"/><circle cx="1640.9" cy="1982.7" r="12.6"/><circle cx="1726.7" cy="1963.3" r="12.6"/><circle cx="1747.7" cy="1956.5" r="12.6"/><circle cx="1634.3" cy="1986" r="12.6"/><circle cx="1648.3" cy="1987" r="12.6"/><circle cx="1730.9" cy="1952.5" r="12.6"/><circle cx="1353.2" cy="1992.9" r="12.6"/><circle cx="1360.6" cy="1994.3" r="12.6"/>
</g>
<g fill="#6C5BD6">
<circle cx="698.4" cy="1827.6" r="12.6"/><circle cx="935.8" cy="1903.4" r="12.6"/><circle cx="978.8" cy="1910.7" r="12.6"/><circle cx="1008.8" cy="1915.2" r="12.6"/><circle cx="1013" cy="1915.5" r="12.6"/><circle cx="1139.5" cy="1922.8" r="12.6"/><circle cx="1130.8" cy="1933" r="12.6"/><circle cx="1199.8" cy="1915.5" r="12.6"/><circle cx="660.4" cy="2147.7" r="12.6"/><circle cx="794.4" cy="2091.1" r="12.6"/><circle cx="854.5" cy="2099.1" r="12.6"/><circle cx="1066" cy="2020" r="12.6"/><circle cx="1115.4" cy="2028.8" r="12.6"/><circle cx="1166.7" cy="2015.2" r="12.6"/><circle cx="1232.7" cy="1863.2" r="12.6"/><circle cx="1251.7" cy="1903" r="12.6"/><circle cx="1258.4" cy="1899.1" r="12.6"/><circle cx="1278.8" cy="1914.6" r="12.6"/><circle cx="1199.4" cy="1915.5" r="12.6"/><circle cx="1400.4" cy="2015.7" r="12.6"/><circle cx="1285.6" cy="2020.1" r="12.6"/><circle cx="1575.9" cy="2026" r="12.6"/><circle cx="1397" cy="1947.6" r="12.6"/><circle cx="1490" cy="1953.5" r="12.6"/><circle cx="1394.7" cy="1992.4" r="12.6"/><circle cx="1458.2" cy="1985.5" r="12.6"/><circle cx="1681.5" cy="1962.1" r="12.6"/><circle cx="1519.2" cy="1958.4" r="12.6"/><circle cx="1515.8" cy="1957.9" r="12.6"/><circle cx="1767.5" cy="1955.8" r="12.6"/><circle cx="1576.7" cy="1946.1" r="12.6"/><circle cx="1691.7" cy="1993.6" r="12.6"/><circle cx="1538.2" cy="1954.8" r="12.6"/><circle cx="1324.9" cy="1998.9" r="12.6"/><circle cx="1741.8" cy="1982" r="12.6"/><circle cx="1444.4" cy="1992.7" r="12.6"/><circle cx="1282.1" cy="1998.1" r="12.6"/><circle cx="1621.8" cy="1957.2" r="12.6"/><circle cx="1568.3" cy="1985.4" r="12.6"/><circle cx="1529.5" cy="1951.9" r="12.6"/><circle cx="1602.9" cy="1953.9" r="12.6"/><circle cx="1616.6" cy="1988" r="12.6"/><circle cx="1707.4" cy="1986.5" r="12.6"/><circle cx="1746.3" cy="1982.9" r="12.6"/><circle cx="1665.9" cy="1996.7" r="12.6"/><circle cx="1767.5" cy="1994.7" r="12.6"/><circle cx="1731.1" cy="1963.2" r="12.6"/><circle cx="1611.9" cy="1983.8" r="12.6"/><circle cx="1552.9" cy="1956.4" r="12.6"/><circle cx="1414.6" cy="1990.4" r="12.6"/><circle cx="1413.5" cy="1988.1" r="12.6"/><circle cx="1704.8" cy="1954.8" r="12.6"/><circle cx="1493.8" cy="1955.2" r="12.6"/><circle cx="1479.1" cy="1947.5" r="12.6"/><circle cx="1458.7" cy="1991.1" r="12.6"/><circle cx="1560.7" cy="1959.1" r="12.6"/><circle cx="1686.4" cy="1979.1" r="12.6"/><circle cx="1453.1" cy="1984.6" r="12.6"/><circle cx="1672.8" cy="1962.3" r="12.6"/><circle cx="1205.5" cy="1936.1" r="12.6"/><circle cx="1557.2" cy="1956.1" r="12.6"/><circle cx="1712.2" cy="1961.7" r="12.6"/><circle cx="1334.8" cy="1950" r="12.6"/><circle cx="1601.9" cy="1956" r="12.6"/><circle cx="1759.2" cy="1991.6" r="12.6"/><circle cx="1680.4" cy="1959.2" r="12.6"/><circle cx="1721.3" cy="1956.9" r="12.6"/><circle cx="1727.3" cy="1958.1" r="12.6"/><circle cx="1699.8" cy="1946.2" r="12.6"/><circle cx="1748.3" cy="1966" r="12.6"/><circle cx="1554.2" cy="1955.8" r="12.6"/><circle cx="1701.6" cy="1958" r="12.6"/><circle cx="1704.8" cy="1961.3" r="12.6"/><circle cx="1741.3" cy="1984.8" r="12.6"/><circle cx="1420.3" cy="1951.5" r="12.6"/><circle cx="1586.1" cy="1959.2" r="12.6"/><circle cx="1453.1" cy="1987.9" r="12.6"/><circle cx="1598.4" cy="1957.4" r="12.6"/><circle cx="1687.9" cy="1962.5" r="12.6"/><circle cx="1719.1" cy="1983.9" r="12.6"/><circle cx="1620.6" cy="1984.5" r="12.6"/><circle cx="1731" cy="1956.7" r="12.6"/><circle cx="1754.5" cy="1957.7" r="12.6"/><circle cx="1751.4" cy="1956.1" r="12.6"/><circle cx="1734.3" cy="1980.9" r="12.6"/><circle cx="1594.9" cy="1982.9" r="12.6"/><circle cx="1578.9" cy="1960.2" r="12.6"/><circle cx="1280.3" cy="1943.9" r="12.6"/><circle cx="1707.6" cy="1989.1" r="12.6"/><circle cx="1273.2" cy="2000.3" r="12.6"/><circle cx="1713.1" cy="1956.9" r="12.6"/><circle cx="1600" cy="1986.9" r="12.6"/><circle cx="1767.5" cy="1984.9" r="12.6"/><circle cx="1453.3" cy="1995.5" r="12.6"/><circle cx="1651.6" cy="1951.4" r="12.6"/><circle cx="1337.8" cy="1947" r="12.6"/><circle cx="1758.5" cy="1960.1" r="12.6"/><circle cx="1396.9" cy="1946.9" r="12.6"/><circle cx="1381.5" cy="1997" r="12.6"/><circle cx="1620" cy="1992.3" r="12.6"/><circle cx="1610" cy="1959.1" r="12.6"/><circle cx="1506.1" cy="1949.5" r="12.6"/><circle cx="1639.8" cy="1952.6" r="12.6"/><circle cx="1761" cy="1959.6" r="12.6"/><circle cx="1765.4" cy="1961.9" r="12.6"/><circle cx="1668.1" cy="1954.2" r="12.6"/><circle cx="1667.3" cy="1983.2" r="12.6"/><circle cx="1651.3" cy="1988.5" r="12.6"/><circle cx="1653.5" cy="1988.7" r="12.6"/><circle cx="1650.5" cy="1989.9" r="12.6"/><circle cx="1733" cy="1963.2" r="12.6"/><circle cx="1653.1" cy="1959" r="12.6"/><circle cx="1685.5" cy="1947.5" r="12.6"/><circle cx="1232.8" cy="1933.9" r="12.6"/><circle cx="1671.5" cy="1983" r="12.6"/><circle cx="1763.9" cy="1979.6" r="12.6"/><circle cx="1571.8" cy="1954.7" r="12.6"/><circle cx="1573.6" cy="1956" r="12.6"/><circle cx="1383.5" cy="1947" r="12.6"/><circle cx="1376.6" cy="1952.2" r="12.6"/><circle cx="1488.1" cy="1993.2" r="12.6"/><circle cx="1474" cy="1990.7" r="12.6"/><circle cx="1586.8" cy="1988.9" r="12.6"/><circle cx="1669.3" cy="1962.1" r="12.6"/><circle cx="1613.5" cy="1993.8" r="12.6"/><circle cx="1761.9" cy="1990" r="12.6"/><circle cx="1462.6" cy="1991.2" r="12.6"/><circle cx="1531.1" cy="1986.8" r="12.6"/><circle cx="1666.7" cy="1986.7" r="12.6"/><circle cx="1672.2" cy="1985.4" r="12.6"/><circle cx="1583.4" cy="1983.7" r="12.6"/><circle cx="1585.2" cy="1987.5" r="12.6"/><circle cx="1366.5" cy="1937.5" r="12.6"/><circle cx="1618.2" cy="1986.3" r="12.6"/><circle cx="1741.3" cy="1964.5" r="12.6"/><circle cx="1705.8" cy="1962.7" r="12.6"/><circle cx="1598" cy="2001.1" r="12.6"/><circle cx="1366.5" cy="1996.6" r="12.6"/><circle cx="1717.5" cy="1988.9" r="12.6"/><circle cx="1714.8" cy="1989.1" r="12.6"/><circle cx="1574.3" cy="1994.3" r="12.6"/><circle cx="1670.3" cy="1983.6" r="12.6"/><circle cx="1700.4" cy="1956" r="12.6"/><circle cx="1697" cy="1985.8" r="12.6"/><circle cx="1372.5" cy="1995.4" r="12.6"/><circle cx="1549.3" cy="1984.8" r="12.6"/><circle cx="1748.6" cy="1952.8" r="12.6"/><circle cx="1659.8" cy="1950.2" r="12.6"/><circle cx="1675.9" cy="1952.5" r="12.6"/><circle cx="1653.8" cy="1989.4" r="12.6"/><circle cx="1727.1" cy="1953.4" r="12.6"/><circle cx="1280.7" cy="1941.6" r="12.6"/><circle cx="1276" cy="1943" r="12.6"/><circle cx="1425.7" cy="1944.5" r="12.6"/><circle cx="1569" cy="1992.7" r="12.6"/>
</g>
<g fill="#A021FF">
<circle cx="894.3" cy="1890.7" r="12.6"/><circle cx="908.9" cy="1888" r="12.6"/><circle cx="919.8" cy="1894.3" r="12.6"/><circle cx="997.9" cy="1914.3" r="12.6"/><circle cx="1005.8" cy="1914.8" r="12.6"/><circle cx="1066.8" cy="1921.4" r="12.6"/><circle cx="1084.3" cy="1918.5" r="12.6"/><circle cx="1145.3" cy="1930.1" r="12.6"/><circle cx="1152.6" cy="1935.9" r="12.6"/><circle cx="1183.1" cy="1928.6" r="12.6"/><circle cx="1231" cy="1937.3" r="12.6"/><circle cx="861.3" cy="2151" r="12.6"/><circle cx="898.6" cy="2053" r="12.6"/><circle cx="1050.5" cy="2022" r="12.6"/><circle cx="1093.1" cy="2015.2" r="12.6"/><circle cx="1104.7" cy="2014.2" r="12.6"/><circle cx="1588" cy="2004" r="12.6"/><circle cx="1578" cy="1999" r="12.6"/><circle cx="1348.5" cy="1948.3" r="12.6"/><circle cx="1397.2" cy="1950.6" r="12.6"/><circle cx="1210.9" cy="2006.9" r="12.6"/><circle cx="1423.5" cy="1953.9" r="12.6"/><circle cx="1528.8" cy="1958.7" r="12.6"/><circle cx="1422.1" cy="1989.4" r="12.6"/><circle cx="1607.2" cy="1987.4" r="12.6"/><circle cx="1315.3" cy="1997" r="12.6"/><circle cx="1720.1" cy="1965.2" r="12.6"/><circle cx="1226.4" cy="2000.3" r="12.6"/><circle cx="1609.4" cy="1953.1" r="12.6"/><circle cx="1236.8" cy="1939.4" r="12.6"/><circle cx="1237.7" cy="1940.8" r="12.6"/><circle cx="1478.9" cy="1952.9" r="12.6"/><circle cx="1219" cy="2003.5" r="12.6"/><circle cx="1671.4" cy="1958.9" r="12.6"/><circle cx="1649.9" cy="1989.6" r="12.6"/><circle cx="1427.9" cy="1993.7" r="12.6"/><circle cx="1570.4" cy="1960.3" r="12.6"/><circle cx="1718.3" cy="1996.4" r="12.6"/><circle cx="1758.2" cy="1992.5" r="12.6"/><circle cx="1401.7" cy="1989.8" r="12.6"/><circle cx="1704.2" cy="1985.4" r="12.6"/><circle cx="1740.7" cy="1958.1" r="12.6"/><circle cx="1581.1" cy="1988.4" r="12.6"/><circle cx="1417.4" cy="1948.7" r="12.6"/><circle cx="1412.8" cy="1990.4" r="12.6"/><circle cx="1654.7" cy="1963.2" r="12.6"/><circle cx="1609.2" cy="1983.7" r="12.6"/><circle cx="1754.3" cy="1979.4" r="12.6"/><circle cx="1455.6" cy="1987.2" r="12.6"/><circle cx="1336.1" cy="1948" r="12.6"/><circle cx="1712.4" cy="1984.3" r="12.6"/><circle cx="1237" cy="1943.2" r="12.6"/><circle cx="1296.6" cy="1945.2" r="12.6"/><circle cx="1278.2" cy="1998.6" r="12.6"/><circle cx="1695.7" cy="1985.7" r="12.6"/><circle cx="1548.9" cy="1959.2" r="12.6"/><circle cx="1400.1" cy="1997.4" r="12.6"/><circle cx="1449.1" cy="1993.7" r="12.6"/><circle cx="1711.4" cy="2001" r="12.6"/><circle cx="1682.3" cy="1983.2" r="12.6"/><circle cx="1486.4" cy="1948.2" r="12.6"/><circle cx="1512" cy="1954.2" r="12.6"/><circle cx="1659.5" cy="1981.9" r="12.6"/><circle cx="1429.9" cy="1992.2" r="12.6"/><circle cx="1410.3" cy="1950.5" r="12.6"/><circle cx="1442.4" cy="1998.3" r="12.6"/><circle cx="1759.2" cy="1960.9" r="12.6"/><circle cx="1524.1" cy="1952.5" r="12.6"/><circle cx="1332.8" cy="2000.5" r="12.6"/><circle cx="1619.5" cy="1958.3" r="12.6"/><circle cx="1469" cy="1993.9" r="12.6"/><circle cx="1439.8" cy="1989.3" r="12.6"/><circle cx="1254" cy="2000.5" r="12.6"/><circle cx="1586.2" cy="1991.7" r="12.6"/><circle cx="1463.7" cy="1953" r="12.6"/><circle cx="1244.7" cy="1947.1" r="12.6"/><circle cx="1699.8" cy="1956.1" r="12.6"/><circle cx="1268.4" cy="1946.7" r="12.6"/><circle cx="1298.9" cy="1993.8" r="12.6"/><circle cx="1371" cy="1995.2" r="12.6"/>
</g>
<g fill="#C058E8">
<circle cx="617.8" cy="2164" r="12.6"/><circle cx="628.4" cy="2149.1" r="12.6"/><circle cx="1207.1" cy="2010.5" r="12.6"/><circle cx="1238.1" cy="2004.7" r="12.6"/><circle cx="1345.6" cy="1993" r="12.6"/><circle cx="1373.7" cy="1990.1" r="12.6"/><circle cx="1469.6" cy="1986.2" r="12.6"/><circle cx="1356.3" cy="1952.3" r="12.6"/><circle cx="1636.9" cy="1960.1" r="12.6"/><circle cx="1768.6" cy="1960.1" r="12.6"/><circle cx="1768.6" cy="1979.5" r="12.6"/>
</g>
<rect x="1021" y="1480" width="690" height="382" fill="#fff"/>
<path d="M681.9 1745.9V1795.5M725.8 1749.3V1792.9M737.6 1772.4V1814.4M754.6 1832.5V1872.5M794.7 1736.8V1772.2M799.2 1843.8V1878.8M846.8 1817.5V1847.7M864.2 1821.8V1850.6M869.7 1841.7V1869.9M849 1855.4V1885.4M868 1872V1900.4M916.1 1828.1V1852.7M986 1809.9V1829.9M978.2 1829.3V1849.7M964.6 1851.9V1873.1M934.3 1870.9V1894.1M906.2 1887.1V1912.5M894 1880.9V1907.1M900.7 1879.1V1904.9M911.6 1880.6V1905.4M970.6 1898.4V1919.2M978.2 1887.4V1907.8M1020.5 1896.2V1914.2M1036.9 1866.8V1883.8M1033.4 1867V1884.2M1046.5 1865.8V1882.4M1021.1 1893.5V1911.5M1042.9 1892.6V1909.4M1074.1 1894.9V1910.1M1094.4 1898.2V1912.6M1116.2 1898.7V1912.1M1163.4 1887.1V1898.9M1164.9 1911.9V1923.5M1050 1906.8V1923.2M1075 1914.4V1929.6M1100 1914.9V1929.1M1125 1921.4V1934.6M1150 1918.9V1931.1M1175 1924.3V1935.7M1190 1919.6V1930.4M1210 1924.9V1935.1M1222 1913.1V1922.9M605.8 2131.2V2193.6M610.4 2134.2V2195.8M609.4 2183.8V2245.6M730.3 2172.1V2215.1M780.1 2098.4V2135.4M802.8 2109.3V2143.9M803.7 2156.5V2190.9M832.8 2058.7V2090.3M847.7 2057.8V2088M880.4 2068.7V2096.1M942 2031.9V2054.7M967.2 2027V2048M979.8 2045.8V2066M987.5 2032.4V2052.2M1004 2032V2050.8M1011.7 2028.3V2046.7M1023.7 2017.9V2035.7M1019.1 2066.3V2084.3M1057.2 2035.3V2051.3M1073.7 2025.9V2041.3M1110.9 2051.4V2065M1125 2011.4V2024.6M1139.6 2027.3V2039.9M1150 2007.9V2020.1M1169.6 2037.5V2049.1M1185 2006.5V2017.5M1040 2021.5V2038.5M1090 2022.7V2037.3M1233.9 1869.1V1878.7M1228.8 1863.2V1872.8M1313.3 1898.6V1906.2M1329.2 1908.1V1915.3M1390.8 1881.6V1887.6M1409.7 1912.3V1918.1M1503.2 1908.5V1912.9M1367.9 1922V1928.4M1552.6 1925.3V1929.1M1540 1929V1933M1648.5 1925.6V1928.8M1731.4 1911.2V1914M1748.3 1916.2V1918.8M1761.8 1929.7V1932.3M1474.4 2017.7V2022.5M1469.2 2042.9V2047.7M1300.1 2068.5V2076.3M1333 2064V2071.2M1300.1 2022.1V2029.9M1207.1 2046V2056.2M1218.7 2053.9V2063.9M1230.4 2060.9V2070.5M1238.1 2029V2038.4M1247.8 2034.9V2044.1M1265.2 2031.3V2039.9M1519.7 2029.7V2033.9M1588.5 2029V2032.6M1635 2020.5V2023.7M1624 2017.4V2020.6M1683.4 2011.9V2014.9M1759.9 2005.3V2007.9M1658 2010.5V2013.5M1462 2009.5V2014.5M1480 2006.7V2011.3M1495 2013.7V2018.3M1508 2019.8V2024.2M1532 2012V2016M1548 2018V2022M1556 2007.1V2010.9M1063.9 1897.2V1913M1063.7 1897.4V1913.2M1062.9 1897.4V1913.2M1051.1 1899.1V1915.5M1073.2 1911.5V1926.8M1059.6 1912.6V1928.5M1063.6 1914.1V1929.9M1078.3 1909.2V1924.3M1076.4 1909.7V1924.9M1112.4 1926.6V1940.2M1113.4 1925.8V1939.4M1116.6 1924.2V1937.7M1145.2 1914V1926.3M1143.5 1915.1V1927.6M1128.8 1928.5V1941.5M1131.3 1929.2V1942.1M1133.8 1928.5V1941.3M1137.8 1925.7V1938.3M1152.2 1924.2V1936.3M1143.1 1924.9V1937.3M1149.9 1932.1V1944.3M1146.5 1930.4V1942.7M1155.5 1927.3V1939.3M1186.5 1924.5V1935.4M1186.3 1926V1936.9M1189.7 1922.2V1933M1192.1 1908.5V1919.3M1205.2 1909.6V1919.9M1200.2 1912.2V1922.7M1203 1910.6V1921M1221.7 1918.8V1928.7M1218.9 1918.7V1928.6M1195.6 1937.8V1948.4M1199.6 1939.2V1949.7M1197.6 1934.8V1945.4M1228.6 1932.3V1941.9M1223.8 1931.1V1940.9M1225.5 1934.8V1944.6M1053.6 2012V2028.2M1047.1 2011.1V2027.6M1056.6 2014.3V2030.4M1057.9 2011.3V2027.3M1070.8 2014.1V2029.5M1063.4 2013.3V2029.1M1059.1 2011.2V2027.2M1077 2019.5V2034.7M1075.4 2019.5V2034.8M1078.1 2017.3V2032.4M1097.4 2009.5V2023.8M1098.8 2007.2V2021.4M1090.2 2009.7V2024.2M1098 2010.1V2024.3M1103.3 2007V2021.1M1106.9 2006.1V2019.9M1114 2022.3V2035.8M1121 2019.7V2033M1172.6 2009.6V2021M1161.5 2008.9V2020.7M1164.6 2007.5V2019.2M1202.4 2032.2V2042.7M1201.6 2028.7V2039.2M1191.4 2033V2043.8M1193.5 1910.7V1921.5M1206.3 1908.8V1919.1M1198.7 1909.8V1920.3M1191.8 1907.5V1918.3M1220.3 1914.7V1924.6M1214.8 1913.1V1923.2M1208.3 1912.5V1922.7M1208.7 1911.9V1922.1M1200.4 2033.2V2043.7M1208.3 2036V2046.2M1200.1 2037.9V2048.4M1585.8 1956.4V1960M1582.8 1958.1V1961.7M1325.8 1996.8V2004.1M1605.3 1984.8V1988.2M1609.6 1983.7V1987.1M1606.7 1983.1V1986.5M1596.7 1983.3V1986.8M1351.5 1947.3V1954.1M1335.9 1946.3V1953.3M1701.2 1951.1V1953.9M1694.5 1952.4V1955.2M1691.4 1951.1V1954M1619 1953.2V1956.5M1628.4 1950.3V1953.6M1626 1951.4V1954.6M1624.4 1949.5V1952.7M1621.9 1951.1V1954.4M1396.8 1944.9V1950.8M1192 1999.4V2010.2M1562.4 1948.1V1951.9M1550.6 1949.6V1953.5M1462 1985.3V1990.2M1475.7 1985.9V1990.7M1184.5 2001.5V2012.5M1189 2001.4V2012.3M1186.3 1998.4V2009.4M1423.6 1951.1V1956.6M1706.9 1985.8V1988.6M1433.2 1930.7V1936M1766.3 1947.2V1949.9M1458.5 1987.1V1992.1M1467.1 1984.7V1989.6M1451.3 1986.9V1992M1678.8 1960.3V1963.3M1687.6 1965.1V1968M1074.2 1915.8V1931.1M1067.6 1916.1V1931.7M1066.2 1915.7V1931.4M1720.9 1980.5V1983.2M1716.3 1981.6V1984.3M1704.2 1988.1V1990.9M1696.2 1988.5V1991.3M1694.2 1986.5V1989.3M1329.8 1936.5V1943.7M1660.3 1953.9V1956.9M1422.6 1987.1V1992.6M1650 1954.7V1957.8M1704.4 1963.6V1966.4M1712.8 1961.6V1964.4M1708.7 1962.3V1965.1M1715.4 1961.4V1964.2M1707.7 1962.5V1965.2M1336 2001.4V2008.4M1324.6 2001.7V2009M1631.9 1950.5V1953.7M1626.7 1951.1V1954.4M1657.7 1958.3V1961.4M1662.2 1956V1959M1648.8 1957.8V1960.9M1757.4 1955.5V1958.2M1589.3 1950.3V1953.9M1192.4 1932.3V1943.1M1184.9 1931.2V1942.2M1189.4 1932.4V1943.3M1625.5 1958V1961.2M1715.8 1978.6V1981.3M1706.9 1992.9V1995.7M1705.4 1991.7V1994.5M1701.1 1991V1993.8M1698.6 1993.5V1996.3M1630.7 1935.9V1939.1M1632.3 1933.6V1936.8M1536.9 1951.1V1955.1M1538.6 1951.1V1955.2M1541.6 1953.5V1957.5M1544.7 1953.5V1957.5M1730.2 1957.2V1959.9M1722.6 1958.4V1961.1M1557.3 1997.5V2001.3M1555.4 1999.1V2003M1562.8 2000.6V2004.4M1147.8 1924.7V1936.9M1351.2 1987.7V1994.5M1588.6 1942.1V1945.6M1594.3 1940V1943.5M1587.8 1943V1946.6M1332.8 1994.3V2001.5M1338 1992.7V1999.7M1725.8 1986.5V1989.2M1740.2 1987.1V1989.8M1735.4 1983.2V1985.9M1728 1986.5V1989.2M1733.2 1961.2V1963.9M1735 1960.2V1962.9M1607.3 1982.2V1985.6M1614.8 1980.9V1984.2M1605.1 1986.5V1990M1320.1 1994.2V2001.5M1539.4 1958.7V1962.7M1546.9 1960.3V1964.3M1668.3 1953.5V1956.5M1657.8 1954.7V1957.7M1658 1955.8V1958.9M1653.7 1956.2V1959.3M1519.1 1951.4V1955.6M1681.4 1984V1987M1696.3 1982V1984.9M1697.9 1983.5V1986.3M1693.3 1984.6V1987.4M1691.2 1984.6V1987.4M1747.6 1979.5V1982.2M1601.6 1989.7V1993.2M1582.2 1949.7V1953.3M1575.6 1946.4V1950M1725.9 1978.9V1981.6M1757 1957V1959.6M1755.4 1956.8V1959.5M1716.3 1961.9V1964.7M1709.6 1960.1V1962.9M1712.8 1963.4V1966.2M1716.4 1958.5V1961.2M1717 1961V1963.8M1744.4 2000.6V2003.2M1741.7 2000.6V2003.3M1287.7 1992.7V2000.8M1297.3 1996.1V2004M1287.2 1996.5V2004.6M1279 1994.3V2002.6M1282.7 1995.7V2003.9M1184.9 1932.4V1943.4M1757.8 1956.7V1959.4M1447.4 1951.9V1957M1467.1 1950.4V1955.3M1450.7 1951.5V1956.6M1444.4 1952.9V1958.1M1738.2 1976.3V1979M1567 1943.6V1947.3M1559.3 1943.9V1947.8M1221.6 1997.7V2007.6M1235.8 1999V2008.4M1224.9 1995.1V2004.8M1230.1 2001.7V2011.3M1701 1953.7V1956.5M1696 1954.9V1957.8M1705.2 1956.2V1959M1625.9 1957.9V1961.2M1626.8 1953.3V1956.5M1386.6 1994.2V2000.3M1386.8 1999V2005.1M1754.5 1983.7V1986.3M1756.5 1980.5V1983.2M1681.5 1989.6V1992.5M1682.5 1991.4V1994.3M1566.7 1984.5V1988.2M1572.1 1982.2V1985.9M1564.7 1981V1984.8M1576.3 1978.7V1982.3M1526.7 1947.6V1951.7M1528.9 1950.4V1954.5M1678.8 1980.6V1983.5M1685.7 1982.2V1985.1M1681.5 1984.2V1987.1M1677.1 1986.2V1989.2M1667.2 1982.8V1985.8M1578.1 1929.1V1932.8M1584.8 1936.6V1940.1M1584.7 1932.2V1935.8M1579.5 1931V1934.7M1165.1 1922.9V1934.6M1165.9 1921.9V1933.5M1548.3 1948.4V1952.3M1718.5 1959.5V1962.3M1605.4 1959.5V1962.9M1622.4 1958.5V1961.8M1608 1956.5V1959.9M1607.1 1957.9V1961.3M1478.8 1953.3V1958M1482.7 1952.9V1957.5M1484.8 1956.1V1960.7M1483.2 1953.4V1958.1M1650.8 1953.9V1957M1628.8 1957.1V1960.3M1347.4 1995.4V2002.2M1331 1997.5V2004.6M1338.6 1994.8V2001.8M1337.2 1993.6V2000.7M1649.3 1988.3V1991.4M1658 1989.1V1992.1M1659.3 1989V1992M1709.8 1990.9V1993.6M1715.8 1994.7V1997.5M1707.4 1991.8V1994.6M1481.2 1984.9V1989.6M1483.7 1982.5V1987.2M1488.4 1985.9V1990.5M1614.8 1987.1V1990.5M1614.4 1986.6V1990M1240.2 1935.4V1944.8M1240 1936.5V1945.8M1238.3 1938.4V1947.7M1239 1936.5V1945.9M1608.6 1936.6V1940M1608.9 1934.7V1938.1M1309.7 1998V2005.6M1310.6 1998.1V2005.7M1734.5 1980.5V1983.2M1741.9 1979.1V1981.8M1705.5 1981.9V1984.7M1706.4 1981.5V1984.3M1493.9 1988.8V1993.3M1332.8 2004.9V2012.1M1664.3 1934.1V1937.1M1669.6 1937.9V1940.9M1665.6 1934.9V1937.9M1672.2 1934.6V1937.6M1673.1 1934.1V1937.1M1740.1 1958.9V1961.6M1757.3 1988.1V1990.7M1767.5 1988.1V1990.8M1763.3 1989.1V1991.7M1767.5 1985.4V1988.1M1760.8 1986.8V1989.4M1405.2 1933.5V1939.3M1578 1954.6V1958.2M1575.5 1957.8V1961.4M1573.2 1956.3V1960M1576.6 1956V1959.6M1738.9 1991.2V1993.9M1734 1989.5V1992.2M1732.8 1977.5V1980.2M1733.8 1979.1V1981.8M1738.9 1981.5V1984.2M1732.8 1981V1983.7M1731.1 1979.4V1982.1M1477.1 1952.3V1957.1M1486.3 1952.5V1957.1M1480.4 1949.8V1954.5M1476.5 1950.7V1955.4M1706.3 1981.1V1983.9M1708.4 1980.9V1983.7M1701.5 1983.9V1986.7M1717.4 1984.6V1987.3M1714.4 1981.8V1984.5M1203 1934.8V1945.2M1355 1925.9V1932.6M1478.6 1946.6V1951.3M1475.7 1944.4V1949.2M1472.9 1947.1V1951.9M1480.3 1947.6V1952.2M1478.6 1945V1949.7M1481.4 1948.1V1952.8M1485.7 1945V1949.6M1672.1 1944.2V1947.2M1669.4 1950.5V1953.4M1670.6 1950.2V1953.2M1661.9 1992.7V1995.7M1655.2 1996.4V1999.4M1767.5 1987.2V1989.8M1767.5 1983.1V1985.8M1766 1984.5V1987.2M1759.8 1983.7V1986.3M1760.4 1984.4V1987.1M1575.1 1990.3V1994M1686 1949.1V1952M1677.2 1947.8V1950.7M1668.2 1949.4V1952.4M1677.4 1951.2V1954.1M1763.3 1989.6V1992.3M1765.6 1989.4V1992.1M1333.9 1942.8V1949.9M1339.7 1941.9V1948.9M1334 1940.7V1947.8M1346.6 1942.4V1949.3M1348 1991.5V1998.3M1345.5 1993.1V2000M1470.1 1997.2V2002M1368.4 1990.4V1996.8M1375.7 1991.6V1997.9M1374.5 1989V1995.3M1374 1988.2V1994.5M1370 1988.9V1995.3M1365.8 1989.1V1995.6M1728.4 1959.5V1962.2M1716 1959.7V1962.5M1730.7 1961.5V1964.2M1613.6 1985.6V1989M1616.5 1984.9V1988.2M1622.2 1983.2V1986.5M1628 1987V1990.3M1601.2 1949.3V1952.7M1601.5 1953.7V1957.2M1606.3 1950.9V1954.3M1604.2 1952V1955.4M1604.4 1955.3V1958.7M1667.1 1996.9V1999.8M1686.2 1959.8V1962.7M1688.7 1956.8V1959.6M1688.1 1960.1V1963M1672.5 1956.9V1959.9M1689.1 1955.8V1958.7M1444.5 1989.9V1995.1M1445.9 1989.4V1994.5M1450.9 1987.5V1992.6M1444.3 1988V1993.2M1525.4 1947.3V1951.4M1532.4 1946.9V1950.9M1528.6 1948.8V1953M1294 2002.6V2010.6M1295.3 2002.1V2010.1M1290.5 2002.4V2010.4M1300.9 2002.4V2010.2M1295.1 2003.7V2011.6M1291.6 2004.4V2012.4M1545 1951.9V1955.9M1554.8 1954.9V1958.8M1372.3 1944.3V1950.6M1607.4 1946.2V1949.6M1604.9 1945.4V1948.8M1594 1949.3V1952.8M1217.8 1999.8V2009.7M1230.1 1999.9V2009.5M1227.9 1999.3V2009M1223.7 1997.4V2007.2M1427.4 1986.9V1992.3M1332.9 1988.7V1995.8M1327.5 1988.6V1995.8M1702.2 1954.1V1956.9M1699.4 1953.9V1956.7M1703.7 1953.6V1956.5M1704.6 1953V1955.8M1712.5 1952.7V1955.5M1678.3 1957.9V1960.8M1759.2 1978.8V1981.5M1759.7 1978.5V1981.1M1755.9 1977.7V1980.3M1753.6 1977V1979.7M1751.5 1979.6V1982.3M1746 1978.5V1981.2M1743.5 1980.9V1983.6M1570.4 1988.8V1992.5M1573 1987.7V1991.4M1575.5 1987.8V1991.4M1589.3 1989.5V1993.1M1737.8 1963.4V1966.1M1747.4 1962.4V1965.1M1737.9 1962.7V1965.4M1541.6 1951.7V1955.7M1539.5 1950.8V1954.8M1214 1999.8V2009.9M1217 2000.6V2010.6M1209 2001.6V2011.8M1574.6 1990.3V1994M1570.6 1991.7V1995.4M1566.5 1986.9V1990.6M1580.2 1947.4V1951M1588.7 1949.5V1953.1M1505.1 1953.5V1957.8M1498 1955.2V1959.7M1495.6 1951.1V1955.6M1499 1951.9V1956.4M1628.2 1949.8V1953.1M1618.6 1948.2V1951.5M1626 1950.2V1953.4M1628.3 1946.5V1949.7M1623.4 1950.5V1953.7M1616.8 1945.9V1949.2M1459.7 1942.3V1947.3M1469.6 1946.1V1950.9M1470.7 1946.6V1951.5M1694.8 1960.3V1963.1M1726.8 1963.4V1966.2M1726.5 1961.9V1964.6M1431.4 1991.6V1996.9M1438 1990.1V1995.4M1433.2 1990.2V1995.5M1427.2 1988.5V1994M1439.6 1989V1994.2M1449 1992.2V1997.3M1467.3 1991V1995.9M1039.1 1909.2V1926.2M1686.4 1958V1960.9M1675.8 1958V1961M1671 1956V1959M1674 1957.9V1960.9M1588 1991.2V1994.7M1587.5 1990.2V1993.7M1590.2 1989.5V1993M1439.4 1981.9V1987.2M1443.7 1989.3V1994.5M1444.8 1984.1V1989.2M1441.1 1985.4V1990.7M1748.9 1956.1V1958.8M1569.9 1958.3V1962M1566.1 1955.8V1959.6M1255.1 1930.1V1939M1253 1932.2V1941.2M1255.3 1932.8V1941.7M1683.3 1979.1V1982M1680.6 1979.5V1982.4M1764.3 1986.5V1989.1M1766.2 1988.1V1990.7M1767.5 1983V1985.6M1688.3 1964.9V1967.8M1682.5 1959.3V1962.2M1685.4 1960.4V1963.3M1746.2 1988.5V1991.2M1735.9 1991.2V1993.9M1757 1983.1V1985.7M1757.4 1985.6V1988.2M1760.2 1985.4V1988.1M1759.1 1985.6V1988.2M1642.9 1992.1V1995.2M1645.7 1988.7V1991.8M1673.9 1959.2V1962.2M1684.4 1958.6V1961.4M1677.8 1960V1962.9M1669.8 1958.7V1961.6M1672.7 1958.5V1961.4M1207.5 1931.4V1941.7M1213.2 1932.9V1943M1571.1 1951.6V1955.3M1565.9 1953.2V1956.9M1564.9 1952.3V1956.1M1566.9 1951V1954.7M1467.9 1953.8V1958.6M1459.6 1951.1V1956.1M1467.9 1954.5V1959.4M1467.6 1954.6V1959.4M1659.3 1987.9V1991M914.7 2040V2064.7M1762.2 1981V1983.6M1763.5 1980.5V1983.2M1763.2 1980.2V1982.8M1639.1 1951.4V1954.6M1640.6 1952.4V1955.6M1482.6 1985.5V1990.2M1476.3 1988V1992.7M1600.6 1956.1V1959.6M1718.6 1961.5V1964.3M1717.7 1962.2V1964.9M1339.9 1944V1950.9M1338.3 1944V1951M1567.7 1983.8V1987.5M1566.5 1983.9V1987.6M1570 1981.3V1985M1573.5 1983.6V1987.3M1432.1 1987.8V1993.1M1429.4 1986.3V1991.7M1528.1 1992.3V1996.4M1517.1 1992V1996.3M1530.2 1990.6V1994.7M1705.8 1984.7V1987.5M1668.7 1957.8V1960.8M1670.5 1960.6V1963.6M1661.7 1960.8V1963.9M1669.3 1962.2V1965.2M1745.4 1988.6V1991.2M1733.1 1989.2V1991.9M1732.6 1988.6V1991.4M1643.4 1983V1986.1M1641.2 1980.8V1983.9M1671.3 1946.2V1949.2M1679 1948.7V1951.7M1681.3 1945.9V1948.8M1582.7 1982.2V1985.8M1586.1 1981.4V1984.9M1520.6 1983.4V1987.6M1183.9 2004.6V2015.6M1177.8 2002V2013.2M1709.8 1981V1983.8M1721 1997.4V2000.1M1680.6 1951.5V1954.5M1681 1951.3V1954.2M1681.7 1953.7V1956.6M1759.9 1961.3V1964M1765.4 1963.6V1966.2M1761.9 1962V1964.6M1764 1957.3V1960M1630.7 1983.2V1986.4M1087.3 1907.3V1922M1084.5 1905.6V1920.4M1085.2 1909.4V1924.2M1088.6 1906.8V1921.4M1083.9 1904.3V1919.1M1608.7 1957.6V1961M1601.7 1958.8V1962.2M1755.8 1938.9V1941.5M1760.6 1938.3V1940.9M1760.7 1940.1V1942.8M1762.3 1940.8V1943.5M1761.9 1940.9V1943.5M1752.3 1939.2V1941.9M1583.6 1981.1V1984.7M1578.9 1977.7V1981.3M1583 1979.3V1982.9M1761.9 1989.3V1992M1665.5 1954.9V1957.9M1673.1 1951.8V1954.8M1510.6 1981.9V1986.3M1500.4 1984.8V1989.2M1505.3 1982.7V1987.1M1507.6 1980.7V1985M1696.5 1962.5V1965.3M1710.6 1962.7V1965.5M1710.4 1963.1V1965.9M1538.3 1951.4V1955.5M1589.7 1983.9V1987.4M1761.3 1961.2V1963.8M1760.9 1960V1962.7M1762.1 1963.5V1966.2M1758.9 1959.8V1962.5M1756.2 1963.8V1966.5M1330.4 1949.4V1956.5M1678.2 1956.9V1959.9M1702.9 1981.7V1984.5M1693.4 1983.7V1986.6M1702 1983V1985.8M1706.6 1982.3V1985.1M1593 1980.6V1984.1M1594.4 1983.4V1986.9M1707.6 1961.1V1963.8M1416.1 1989V1994.6M1396.7 1990.2V1996.2M1068.3 1910.5V1926.1M1633.6 1935.1V1938.3M1640.5 1938.6V1941.7M1644.6 1936.6V1939.7M1767.5 1980.1V1982.7M1764.6 1984V1986.6M1292.8 2000V2008M1281.4 2002.3V2010.6M1474.7 1954.7V1959.4M1725 1958.8V1961.5M1732 1956.1V1958.8M1730.9 1959.2V1961.9M1640.2 1938.4V1941.5M1634.3 1936.1V1939.3M1644.4 1933.2V1936.4M1642.9 1936.6V1939.7M1638.6 1936.7V1939.9M1641.1 1935.8V1939M1585.8 1984.7V1988.3M1581.2 1983.6V1987.2M1581.3 1986.9V1990.5M1571.7 1985.1V1988.8M1575.7 1984.4V1988.1M1708.8 1942V1944.8M1715.2 1945.7V1948.5M1707 1947.3V1950.1M1712.6 1943.6V1946.3M1758.6 1960.4V1963.1M1752.3 1962.9V1965.6M1752.1 1960.4V1963.1M1751.5 1964.6V1967.3M957.7 1890.4V1912.1M1573 1987.5V1991.2M1581.9 1986V1989.6M1383.8 1949.6V1955.7M1385.9 1949.8V1955.9M1382.1 1948.1V1954.3M1376.8 1949.2V1955.4M1381.6 1948.8V1955M1388.6 1950.3V1956.4M1714 1984.2V1987M1767.5 1958.2V1960.8M1767.5 1954.1V1956.8M1560.3 1955.9V1959.7M1499.3 1957V1961.4M1512.6 1956.3V1960.6M1511.1 1956.6V1960.9M943.1 2033.6V2056.2M939 2030.4V2053.3M943.5 2031.9V2054.5M1704.4 1958.2V1961M1700 1952.7V1955.6M1699.7 1952.3V1955.2M1696.2 1957V1959.9M1744.2 1984V1986.7M1710.6 1962.9V1965.7M1704.5 1962.9V1965.7M1714.9 1961.4V1964.2M1736.4 1982.1V1984.8M1741.3 1985.8V1988.5M1734.6 1982.6V1985.3M1735.8 1982.2V1984.9M1429.4 1948.2V1953.6M1414.1 1948.8V1954.5M1383.1 1996V2002.2M1752 1984.4V1987.1M1757.2 1981.8V1984.5M1761.6 1981.3V1983.9M1759.5 1983.5V1986.2M1672.6 1981.2V1984.2M1675.5 1983.5V1986.4M1676.8 1978.8V1981.8M1424.1 1986.4V1991.8M1677.8 1947.5V1950.5M1683.6 1947.1V1950M1690.3 1945.2V1948.1M1685.1 1948.4V1951.3M1681.6 1946.5V1949.4M1680 1945.9V1948.8M1639 1980.8V1984M1650.2 1981.3V1984.4M1656.1 1982V1985.1M1700.6 1961.7V1964.5M1644.9 1959.8V1962.9M1654.9 1961.6V1964.7M1575.5 1956.5V1960.2M1581.6 1958V1961.6M1564.8 1958.1V1961.9M1567.7 1957.2V1960.9M1586.8 1959.4V1963M1379.2 1946V1952.2M1492.2 1954V1958.6M1487.4 1950.1V1954.7M1623.3 1958.8V1962.1M1613.5 1961.4V1964.7M1630.5 1959.5V1962.7M1632.9 1960.1V1963.3M1750.8 1988V1990.7M1595 1955V1958.5M1584.9 1955.5V1959M1585.8 1954.9V1958.5M1596.2 1956.7V1960.1M1591.4 1954.1V1957.6M1592 1955.2V1958.7M1576.9 1939.4V1943M1601.6 1983.7V1987.2M1598.2 1982.6V1986.1M1588.1 1948V1951.5M1744.2 1983.4V1986.1M1753.5 1978.7V1981.4M1749.1 1979.8V1982.5M1740.4 1980.5V1983.2M1755.1 1982V1984.7M1450.2 1988.6V1993.7M1446.6 1984.7V1989.9M1450.7 1986.5V1991.6M1454.1 1984.5V1989.6M1767.5 1945.5V1948.1M1767.5 1948.8V1951.4M1767.5 1944.3V1946.9M1767.5 1947.9V1950.6M1764.4 1950.1V1952.8M1613.1 1957.3V1960.6M1584.7 1953.6V1957.2M1757.6 1986.2V1988.9M1763.5 1989.1V1991.7M1762.5 1986V1988.7M1762 1986V1988.7M1758.8 1988.6V1991.3M1331.4 1943.7V1950.8M1326.8 1946V1953.2M1324.4 1946.6V1953.9M1685.4 1957.8V1960.7M1683.1 1959.4V1962.3M1688.1 1958.6V1961.5M1686.1 1961.8V1964.7M1697.9 1961.1V1963.9M1736.8 1962.7V1965.4M1735.7 1959.5V1962.2M1521.1 1993.4V1997.6M1504.5 1990.2V1994.6M1524.6 1993.1V1997.2M1716.7 1981.9V1984.7M1721 1984.6V1987.3M1720.6 1981.9V1984.7M1633.4 1982.1V1985.3M1631.3 1982.8V1986M1657.7 1985V1988M1660.7 1987.3V1990.3M1662.5 1984.8V1987.8M1716.5 1980.7V1983.5M1721.2 1981.4V1984.1M1136.2 1919.8V1932.5M1144.7 1916.9V1929.3M1290 1944.4V1952.4M1289.1 1944.4V1952.5M1735.5 1997.1V1999.8M1743.7 1998.2V2000.9M1748.6 1997.2V1999.8M1692.2 1959.7V1962.6M1722.8 1955.5V1958.2M1723 1956.6V1959.4M1675.5 1981.6V1984.5M1751.6 1953.7V1956.4M1756.2 1955.4V1958.1M1750.6 1953.6V1956.2M1743 1952.3V1955M1640.6 1953V1956.2M1637.8 1954.6V1957.7M1727.7 1962.5V1965.3M1727.7 1959.2V1961.9M1717.2 1961.9V1964.7M1607.3 1957.2V1960.6M1618.6 1957.4V1960.7M1745.8 1981.1V1983.8M1737.9 1980.6V1983.3M1448.4 1952.8V1957.9M1607.9 1981.5V1984.8M1594.8 1981.5V1985M1529.4 1951.4V1955.5M1529.4 1954.1V1958.2M1244.4 1937.5V1946.7M1241 1937.1V1946.4M1719.3 1961.6V1964.3M1713.4 1962.6V1965.4M1478.2 1991.3V1996M1280.1 1942.8V1951.1M1296 1941.4V1949.3M1294.3 1938V1946M1282.6 1941.5V1949.8M1533 1985V1989.1M1541.5 1980.2V1984.2M1537.5 1979.8V1983.8M1545.2 1980.4V1984.4M1539.1 1981.3V1985.3M1624.6 2002.6V2005.8M1630.8 2004.6V2007.9M1694.4 1959.4V1962.3M1686.3 1961.5V1964.3M1227.1 1924.9V1934.6M1215.4 1925.9V1935.9M1634.5 1942.8V1946M1636.3 1938.1V1941.3M1636.4 1939.4V1942.5M1634.8 1938.9V1942.1M1643.8 1982V1985.1M1647 1980.1V1983.2M1707 1986.8V1989.6M1704.2 1990.2V1993M1275.8 1995.2V2003.6M1566.2 1992.5V1996.2M1556.1 1994.4V1998.3M1712.6 1956.7V1959.5M1695.6 1982.7V1985.5M1701.7 1981.7V1984.5M1514.6 1982.6V1986.9M1512.6 1986.9V1991.2M1718.4 1958.2V1961M1726.9 1959.2V1961.9M1518.3 1953.1V1957.4M1009.9 1907.8V1926.3M1011.4 1908.1V1926.5M1011.2 1905.7V1924.2M1015.6 1904.5V1922.7M1552.3 1959V1962.9M1543.5 1959V1963M1638.6 1990.7V1993.8M1499.4 1988.8V1993.3M1503.8 1989.6V1994M1506.1 1987.9V1992.3M1499 1993.8V1998.3M1360.9 1948.9V1955.5M1365.4 1944V1950.5M1371.3 1948.8V1955.2M1362.6 1948.1V1954.7M1368.3 1949.7V1956.1M1414.5 1941.3V1947M1416.7 1945.5V1951.1M1421.1 1946.9V1952.5M1416 1944.8V1950.5M1419 1943.3V1948.8M1632 1957V1960.2M1624.7 1953.8V1957.1M1627.7 1955.5V1958.7M1628.3 1957.8V1961M1522.5 1987.4V1991.6M1522.8 1983.7V1987.8M1519.7 1982.9V1987.1M1518.5 1984.4V1988.6M1525.4 1985.3V1989.4M1593.6 1987.1V1990.6M1609.4 1985.5V1988.9M1610.8 1984.8V1988.2M1603.8 1983.1V1986.5M1346.4 1936.2V1943.1M1402.8 1999.2V2005M1394.1 1996V2002M1406 1993.1V1998.9M1402.7 1995.1V2000.9M1401.5 1991.5V1997.3M1753.7 1983.7V1986.4M1761.3 1981.2V1983.8M1767.5 1981.1V1983.8M1758.1 1981.9V1984.6M1451.3 1993.9V1998.9M1461.6 1992.5V1997.4M1456.6 1995.8V2000.8M1459.4 1995.2V2000.2M1204.7 1924.9V1935.2M1746.1 1962.1V1964.8M1754.3 1959.5V1962.1M1711.2 1999V2001.8M1702.9 2000.3V2003.1M1707.5 1997.2V2000M1367.7 1990.6V1997M1384.5 1991.1V1997.3M1377.4 1992V1998.2M1706.5 1957.8V1960.5M1710.2 1957.6V1960.4M1715.1 1959.6V1962.4M1748.4 1947.9V1950.6M1737.8 1947.3V1950M1712.2 1989.6V1992.3M1607.9 1948.6V1951.9M1608.3 1948.5V1951.8M1519.3 1988.1V1992.3M1520.8 1991.7V1995.9M1510.8 1992.7V1997M1523.8 1990.9V1995.1M1507.7 1988.9V1993.3M1519.5 1993V1997.2M1656.5 1949.6V1952.6M1767.5 1982.3V1985M1767.4 1982.1V1984.8M1141.9 2014.8V2027.3M1141.3 2013.1V2025.7M1140.7 2015.1V2027.7M1346.8 1946.3V1953.2M1606.8 1982.4V1985.8M1615.2 1982.6V1985.9M1606.9 1983.8V1987.2M1628 1939.8V1943M1684.8 1981.5V1984.4M1693.3 1982.6V1985.5M1692.7 1985V1987.8M1702.2 1982.3V1985.1M1282.3 1939.8V1948M1581.8 1999.2V2002.8M1587.7 2001V2004.6M1578.8 2000.5V2004.1M1641.8 1958.8V1961.9M1637.9 1981.5V1984.7M1414.6 1951.1V1956.7M1414.7 1949.3V1954.9M1418.7 1948.6V1954.2M1602.7 1937.3V1940.8M1611 1933.6V1937M1608.3 1937.4V1940.8M1463.1 1948.8V1953.7M1397.9 1943.3V1949.2M1405.3 1942.3V1948M1406.7 1941.3V1947.1M1381.7 1995.1V2001.3M1380 1995.1V2001.3M1381.7 1993.8V2000M1616.3 1989.8V1993.1M1625.4 1988.2V1991.4M1613.8 1959.5V1962.8M1609.5 1960V1963.3M1628.3 1978.7V1982M1627.4 1981.5V1984.7M1648.9 1958.6V1961.7M1651.5 1956.4V1959.4M1695 1956.3V1959.2M1487.1 1949.1V1953.7M1483.5 1944.3V1949M1483.2 1946.7V1951.4M1479.6 1945.6V1950.3M1399.8 1994.2V2000.1M1516.5 1949.5V1953.7M1640.6 1951.3V1954.5M1644.6 1949.8V1952.9M1507.4 1950.9V1955.2M1491 1951.1V1955.7M1767.5 1961.6V1964.2M1741.1 1982.4V1985.1M1748.3 1986V1988.7M1761.9 1960.5V1963.2M1665.8 1958.5V1961.5M1658.3 1956.8V1959.9M1665.7 1956.5V1959.4M1666.4 1953.7V1956.7M1660.8 1956.8V1959.8M1584.7 1953.9V1957.5M1645.8 1988V1991.1M1656.4 1987.9V1990.9M1647.1 1986.3V1989.4M1759.6 1958.9V1961.6M1756.4 1959.8V1962.5M1754.6 1960.7V1963.4M1314.9 1945.3V1952.8M1433.2 1986.5V1991.8M1427.5 1984.3V1989.7M1412 2003.8V2009.5M1419.3 2004.8V2010.4M1692.1 1990.1V1993M1594.8 1938.8V1942.3M1591 1935.4V1938.9M1633.4 1953.3V1956.5M1618.1 1954.5V1957.8M1668.3 1953.5V1956.5M1661 1953.8V1956.8M1661.7 1954.2V1957.2M1724.5 1955.1V1957.9M1725 1957.5V1960.2M1728.2 1955.9V1958.6M1733.8 1955.5V1958.2M1654.7 1953.9V1956.9M1652.8 1952V1955M1444.6 1988.6V1993.8M1453.9 1991.5V1996.6M1456.2 1993.3V1998.3M1441.9 1953.1V1958.3M1456.1 1952.2V1957.2M1448.4 1951.3V1956.4M1508.5 1958.2V1962.5M1488.2 1986.7V1991.3M1584.1 1996.8V2000.4M1585.7 1997.2V2000.7M1597.8 2001.3V2004.7M1586.4 1999.8V2003.4M1711.2 1985.2V1987.9M1714.5 1984.7V1987.4M1715.5 1988.1V1990.8M1697.5 1939.2V1942M1740.2 1988.6V1991.3M1729.8 1988.4V1991.1M1665.8 1935.6V1938.6M1620.8 1953.5V1956.7M1632 1951.6V1954.8M1633.3 1952.7V1955.9M1634.1 1953.4V1956.6M1695.8 1943.2V1946.1M1690.6 1943.7V1946.6M1689 1948.3V1951.1M1691.1 1949.5V1952.4M1245.9 1931.3V1940.4M1230.3 1934.3V1944M1238 1930.2V1939.6M1237.5 1930.2V1939.6M1238 1931.6V1941M1504 1950.3V1954.7M1502.1 1947.2V1951.6M1762.7 1989.4V1992M1757.9 1990.1V1992.7M1738.7 1957.8V1960.5M1742.3 1961V1963.6M1732.4 1960.1V1962.8M1732.1 1954.5V1957.3M1729 1956.4V1959.1M1732.6 1955.9V1958.7M1176.5 1924.3V1935.6M1176.1 1930.3V1941.6M1545.3 1984.9V1988.9M1544.9 1984.6V1988.6M1402.1 1994.5V2000.3M1403 1995V2000.9M1403.9 1992V1997.8M1395.7 1991.8V1997.7M1622.3 1953.8V1957.1M1619.5 1955.8V1959.1M1626.8 1952.5V1955.7M1630.9 1956.4V1959.6M1626.6 1953.7V1957M1573.7 1957V1960.7M1572.8 1958.8V1962.5M1576.1 1958.9V1962.6M1570.3 1957.4V1961.1M1390.5 1945.4V1951.4M1418.4 1945.8V1951.3M1408.3 1947.6V1953.3M1691.9 1949.5V1952.3M1697.9 1980.2V1983M1003.2 2022.6V2041.5M1247.5 2012.5V2021.6M1257.3 2011V2019.9M1252.4 2012.3V2021.3M1753.5 1963.3V1965.9M1465.9 1954V1958.9M1455.3 1951.8V1956.8M1457.7 1953.4V1958.4M1455.2 1954.1V1959.1M1749.9 1947.9V1950.6M1661.9 1979.9V1982.9M1664.6 1982.1V1985.1M1757.8 1981.9V1984.5M1751.6 1980V1982.7M1349.7 1997.8V2004.5M1531.2 1951.8V1955.9M1135.7 2013.4V2026.1M1138.4 2008.6V2021.2M1497.4 1934.7V1939.2M1349.3 1998.4V2005.2M1347.2 2000V2006.8M1197.3 2005.8V2016.4M1190 2006.7V2017.6M1189.2 2006V2016.9M1731.1 1958.6V1961.3M1576.5 1952.2V1955.9M1562.2 1952.9V1956.7M1571.6 1952.1V1955.8M1644.3 1957.3V1960.4M1651.7 1954.8V1957.9M1648 1955.6V1958.7M1642.9 1952.2V1955.3M1386.4 1950.5V1956.6M1390.1 1947.7V1953.7M1400 1944.9V1950.8M1583.9 1955.8V1959.4M1630.4 1982V1985.2M1631.3 1981V1984.2M1628.5 1980.7V1983.9M1482.6 1986.4V1991.1M1476.5 1990.8V1995.5M1704.8 1949.4V1952.2M1734.4 1959.4V1962.1M1742.3 1962.3V1965M1739.1 1960.2V1962.9M1744 1961.6V1964.3M1595.1 1983.7V1987.2M1599.1 1984V1987.5M1599.5 1955.6V1959.1M1592.4 1954.9V1958.4M1666.2 1958.8V1961.8M1613.3 1991.7V1995.1M1616.1 1989.4V1992.8M1466.2 1992.6V1997.5M1469.3 1989.8V1994.6M1470.7 1989.1V1993.9M1507.4 1985.3V1989.6M1495.3 1980.1V1984.6M1597.3 1957.7V1961.2M1592.8 1956.5V1960M1593.1 1958.8V1962.3M1587.6 1959V1962.6M1559.1 1983.2V1987M1403.9 1989.3V1995.1M1667.4 1960.4V1963.4M1531.7 1985.2V1989.3M1527.6 1983.6V1987.7M1529 1982.8V1986.9M1350.1 1949V1955.7M1676.1 1984.2V1987.1M1336.5 1945.6V1952.6M1343.4 1945.8V1952.7M1352 1944.4V1951.2M1573.9 1984.3V1988M1576.5 1981.8V1985.5M1575.5 1984.8V1988.5M1256.2 1995.3V2004.2M1588.4 1992.3V1995.8M1340.1 1944.6V1951.6M1612.1 1947.6V1951M1616 1948.5V1951.8M1620.3 1947.5V1950.8M1619.7 1949.9V1953.2M1622.1 1951.3V1954.6M1612.5 1947.5V1950.9M1713.2 1935.9V1938.7M1716 1935.4V1938.1M1716.8 1936.4V1939.1M1719.8 1936.5V1939.3M1742 1952.5V1955.2M1354.5 1933.8V1940.4M1363.2 1932.8V1939.3M1622.2 1985.6V1988.9M1620.1 1982V1985.3M1626.7 1986.9V1990.1M1433.1 1947.4V1952.8M1435.7 1949.1V1954.4M1335.6 1991.4V1998.4M1326.1 1992V1999.3M1319.2 1988.8V1996.2M1317.1 1991.6V1999.1M1326.6 1991.5V1998.7M1734 1961.3V1964M1675 1946.2V1949.1M1710.9 1959.4V1962.2M1703.7 1959.4V1962.3M1694.3 1958.9V1961.8M1699.8 1960.1V1962.9M1697 1960.6V1963.4M1510.7 1990.2V1994.5M1497.3 1990V1994.5M1490.7 1993V1997.6M1499.6 1995V1999.4M1491.8 1991.5V1996M1589.7 2000.3V2003.9M1591.9 1998.5V2002M1603.6 1997.2V2000.6M1745.5 1962.3V1965M1767.5 1982.7V1985.4M1767.5 1980.2V1982.8M1350 1938.7V1945.5M1459.1 1952.6V1957.6M1467.2 1951.2V1956M1718.5 1961.7V1964.4M1722.4 1964.7V1967.5M1718.8 1963.5V1966.3M1712.9 1960V1962.8M1361.1 1991V1997.5M1360.2 1992.8V1999.4M1553 1986V1989.9M1566 1986.5V1990.3M1564.4 1985.9V1989.7M1567.2 1984V1987.7M1563.8 1984.9V1988.7M1240.8 1939V1948.3M1513.3 1954.3V1958.6M1499.4 1954.3V1958.8M1270.4 1937.6V1946.2M1275.5 1939.3V1947.7M1587.1 1951.2V1954.8M1512.2 1987.6V1991.9M1513.8 1984.5V1988.7M1505.4 1987.4V1991.8M1179 1931.4V1942.6M1698.8 1953V1955.8M1707.2 1953V1955.8M1708.5 1953.1V1955.9M1706.2 1954.1V1956.9M1281.1 1941V1949.2M1272.8 1940.6V1949M1395.5 1983.2V1989.1M1725.2 1989.6V1992.3M1720 1988.8V1991.5M1710 1987.8V1990.6M1717.9 1987.1V1989.8M1703.7 1992.5V1995.3M1706.3 1991V1993.8M1706.3 1991.2V1994M1374.3 1948.4V1954.7M1366.8 1949V1955.4M1372.3 1947.1V1953.5M1376.5 1949.5V1955.7M1378.8 1946.6V1952.9M1767.2 1980.4V1983M1760.2 1984.2V1986.8M1760.8 1981.2V1983.9M1350.8 1998.8V2005.6M1357.1 1998V2004.7M1361.1 1999.2V2005.7M1361.8 1995.4V2002M1570.2 1990.9V1994.6M1581.6 1990.4V1994M1567.4 1990.7V1994.4M1588.8 1994.8V1998.3M1668.4 1981.4V1984.4M1669.6 1984.3V1987.3M1680.8 1981.5V1984.4M1687.5 1983.2V1986.1M1681.3 1985.4V1988.3M1686.3 1986.3V1989.2M1703.4 1986V1988.8M1714.5 1982.1V1984.8M1530.6 1951.7V1955.8M1549.4 1950.3V1954.2M1546.3 1950.1V1954M1754.3 1979.4V1982.1M1764.7 1981.7V1984.3M1751.8 1979.3V1981.9M1460.1 2003.6V2008.6M1456.8 1999.8V2004.8M1453 2003V2008M1450.1 1998.2V2003.3M1674.2 1986.2V1989.1M1676.7 1985.4V1988.3M1725.5 1965.2V1968M1723.5 1963V1965.7M1723.8 1962.1V1964.8M1722.6 1961.3V1964M1298.1 1991.9V1999.8M1717.1 1989.2V1991.9M1717 1989.3V1992.1M1586.6 1956.7V1960.3M1194.2 2003.3V2014M1735.6 1980.3V1983M1226.3 1937.4V1947.2M1220.8 1934.6V1944.5M1229.1 1937V1946.7M1709.1 1954.7V1957.5M1699.5 1958.9V1961.7M1713.9 1980V1982.8M1704.1 1981.3V1984.1M1700 1983.6V1986.4M1701 1984.1V1986.9M1706.3 1981.7V1984.5M1380.7 1995.6V2001.8M1754.8 1954.9V1957.6M1752.2 1957.5V1960.1M1747.7 1957.6V1960.3M1755.2 1958.3V1961M1716.6 1993.9V1996.6M1704.8 1998V2000.8M1702.1 1995.6V1998.4M1363.5 1941.9V1948.4M1270.9 1934.9V1943.5M1231.5 1936.5V1946.1M1235.3 1938V1947.4M1230.1 1938.2V1947.8M1750.7 1987.8V1990.5M1750.6 1985.6V1988.2M1567 1981.9V1985.6M1558.3 1984.1V1988M1558.7 1985.8V1989.6M1552.9 1985.1V1988.9M1552.2 1981.4V1985.3M1752 1955.2V1957.9M1557 1994.3V1998.1M1711.6 1950.9V1953.7M1714.1 1957.1V1959.9M1724.4 1956.9V1959.7M1715.2 1953.6V1956.3M1655.3 1944.1V1947.2M1627.3 1957.3V1960.5M1672.9 1949.8V1952.8M1674.9 1949V1951.9M1525.3 1992.8V1997M1517.4 1993.1V1997.3M1631.1 1983.2V1986.4M1635.2 1985.7V1988.9M1642.1 1983.5V1986.7M1637.6 1985.7V1988.9M1651 1985.2V1988.3M1655.1 1988.5V1991.6M1651.4 1987.8V1990.9M1709.6 1956.1V1958.9M1731.4 1980.3V1983M1719.1 1980.4V1983.2M1350.2 2006.6V2013.3M1633.8 1985.6V1988.8M1643.1 1985.2V1988.3M1623.2 1986.8V1990M1748 1978.9V1981.6M1740.5 1980.4V1983.1M1736.5 1978V1980.7M1724 1952.4V1955.1M1719.7 1953.2V1956M1727.3 1953.8V1956.6M1269.5 1937.9V1946.5M1706.5 1983V1985.8M1512.8 1994.2V1998.5M1517 1989.9V1994.2M1431.4 1939.1V1944.5M1438.3 1943.3V1948.5M1438.1 1939.2V1944.5M1438.9 1939.3V1944.6M1433.3 1944.7V1950.1M1276.7 1940.5V1948.9M1618.8 1945.4V1948.7M1620.3 1943.6V1946.9M1592.3 1939.7V1943.2M1590.5 1939.1V1942.7M1571.5 1938.4V1942.1M1571.2 1989.9V1993.6M1569.6 1989.3V1993M1411.4 1948.3V1954M1404.9 1948.2V1953.9M1402 1949.1V1954.9M1700.8 1987.6V1990.4M1705.4 1985.9V1988.7M1702 1983.6V1986.4M1742.5 1950.8V1953.5M1388 1993.5V1999.5M1374.2 1991.2V1997.5M1380.1 1994.7V2000.9M1361.4 1990V1996.6M1362.1 1989.4V1995.9M1352.9 1992.2V1998.9" stroke="#5AC5AE" stroke-width="2.9" stroke-linecap="round" fill="none"/>
<path d="M424.8 1588.4V1696.2M545.1 1708.9V1783.9M848 1851.6V1881.8M960.6 1841.5V1862.9M1034.2 1911.1V1928.3M1058.8 1898.1V1914.1M1033.4 1911.3V1928.5M1114 1924.7V1938.3M1215 1916.4V1926.4M1203.4 1936.5V1946.9M857.6 2095.5V2124.7M960.4 2033.5V2055.1M1083.4 2018.5V2033.3M1197.7 2030.2V2040.8M1215.8 1912.5V1922.5M1205.2 2036.2V2046.6M1265.2 2019.7V2028.3M1674.7 2009V2012M1605.5 1987V1990.4M1341.2 1943.8V1950.7M1688.4 1951.7V1954.5M1200.8 2001.8V2012.3M1682.2 1958.6V1961.5M1343.6 1935.3V1942.2M1650.7 1955.3V1958.3M1331.6 1992.2V1999.3M1630 1981.6V1984.8M1759.9 1955.3V1958M1439.5 1951.7V1957M1578.2 1987.2V1990.8M1548 1949.9V1953.8M1307.7 1998.1V2005.8M1207.2 1932.6V1942.9M1479 1943.4V1948.1M1754.9 1983.4V1986M1765.8 1980.8V1983.5M1572.3 1988.4V1992.1M1616.7 1981.5V1984.9M1604.1 1956V1959.4M1611.6 1947.4V1950.8M1583.2 1984.4V1988M1537.3 1952.2V1956.2M1694.9 1963.2V1966M1681.7 1956.3V1959.2M1450.8 1987.9V1993M1449.9 1984.9V1990M1761.8 1983.5V1986.2M1758.6 1983.2V1985.8M1633.4 1947V1950.2M1615.2 1950.8V1954.1M1354.2 1945.2V1951.9M1710.4 1983.5V1986.3M1580 1981.4V1985M1582.2 1983V1986.6M1724.5 1992.5V1995.3M1602.6 1956.4V1959.8M1666.1 1949.8V1952.8M1674 1948.2V1951.2M1536.8 1952.2V1956.3M1335.4 1947.2V1954.3M1679.9 1956.7V1959.6M1601.3 1979.5V1983M1763.3 1981.2V1983.8M1766.2 1983.4V1986M1755 1961.7V1964.4M1506 1957.5V1961.9M1740.8 1981V1983.7M1752.7 1983.9V1986.5M1641.8 1981.9V1985.1M1600.7 1956.7V1960.1M1685.6 1953.9V1956.8M1734.2 1963.5V1966.2M1716.9 1984.1V1986.9M1733.8 1956.6V1959.3M1731.1 1952.4V1955.1M1737.6 1981.3V1984M1729.4 1979V1981.7M1446.4 1953V1958.1M1237.6 1940.2V1949.6M1716.5 1962.9V1965.6M1279.2 1995.2V2003.5M1692.6 1984.2V1987.1M1710.4 1960.3V1963.1M1511.8 1954.4V1958.7M1502.1 1984.7V1989.2M1498.8 1987.2V1991.7M1204.1 1919.5V1929.8M1375.3 1988.1V1994.4M1374.7 1989.7V1996M1767.5 1977.9V1980.6M1636.7 1958.5V1961.7M1602.6 1958.7V1962.1M1644.1 1958.2V1961.4M1506.1 1951V1955.4M1462 1993.8V1998.7M1725.1 1985.6V1988.3M1731.7 1961.8V1964.5M1728.6 1954.4V1957.1M1365.5 1988.8V1995.3M1538.9 1986.3V1990.3M1711.6 1979.7V1982.5M1440.9 1993.5V1998.7M1457.4 1951.2V1956.2M1750.7 1950V1952.6M1516.5 1950.7V1955M1647.9 1956.3V1959.4M1465.2 1989.9V1994.8M1590.1 1957V1960.6M1667.7 1956.8V1959.7M1346.5 1944.7V1951.5M1623.4 1983.5V1986.8M1435.3 1949.9V1955.2M1493.8 1994V1998.5M1565.2 1988.9V1992.7M1400.1 1988.3V1994.1M1368.7 1950.3V1956.7M1450.8 1944.5V1949.6M1354 1998.2V2004.9M1640.9 1981.1V1984.3M1726.7 1962V1964.7M1747.7 1955.2V1957.9M1634.3 1984.4V1987.6M1648.3 1985.4V1988.5M1730.9 1951.1V1953.8M1353.2 1989.5V1996.2M1360.6 1991.1V1997.6" stroke="#558CBE" stroke-width="2.9" stroke-linecap="round" fill="none"/>
<path d="M698.4 1804V1851.2M935.8 1891.8V1915M978.8 1900.5V1920.9M1008.8 1905.9V1924.5M1013 1906.3V1924.7M1139.5 1916.5V1929.1M1130.8 1926.5V1939.5M1199.8 1910.2V1920.8M660.4 2121.2V2174.2M794.4 2073.4V2108.8M854.5 2084.3V2113.9M1066 2012.2V2027.8M1115.4 2022V2035.6M1166.7 2009.4V2021M1232.7 1858.4V1868M1251.7 1898.5V1907.5M1258.4 1894.7V1903.5M1278.8 1910.4V1918.8M1199.4 1910.2V1920.8M1400.4 2012.8V2018.6M1285.6 2016V2024.2M1575.9 2024.2V2027.8M1397 1944.6V1950.5M1490 1951.2V1955.8M1394.7 1989.4V1995.3M1458.2 1983V1988M1681.5 1960.6V1963.5M1519.2 1956.3V1960.5M1515.8 1955.8V1960.1M1767.5 1954.4V1957.1M1576.7 1944.3V1947.9M1691.7 1992.2V1995.1M1538.2 1952.8V1956.8M1324.9 1995.2V2002.5M1741.8 1980.7V1983.3M1444.4 1990.1V1995.3M1282.1 1993.9V2002.2M1621.8 1955.5V1958.8M1568.3 1983.5V1987.2M1529.5 1949.8V1954M1602.9 1952.1V1955.6M1616.6 1986.4V1989.7M1707.4 1985.1V1987.9M1746.3 1981.6V1984.3M1665.9 1995.2V1998.2M1767.5 1993.4V1996.1M1731.1 1961.8V1964.5M1611.9 1982.1V1985.5M1552.9 1954.5V1958.4M1414.6 1987.5V1993.2M1413.5 1985.3V1990.9M1704.8 1953.4V1956.2M1493.8 1953V1957.5M1479.1 1945.1V1949.8M1458.7 1988.6V1993.6M1560.7 1957.2V1961M1686.4 1977.6V1980.5M1453.1 1982V1987.1M1672.8 1960.9V1963.8M1205.5 1931V1941.3M1557.2 1954.2V1958M1712.2 1960.3V1963.1M1334.8 1946.5V1953.5M1601.9 1954.3V1957.7M1759.2 1990.3V1992.9M1680.4 1957.7V1960.6M1721.3 1955.6V1958.3M1727.3 1956.8V1959.5M1699.8 1944.8V1947.6M1748.3 1964.7V1967.4M1554.2 1953.9V1957.7M1701.6 1956.5V1959.4M1704.8 1959.9V1962.7M1741.3 1983.4V1986.1M1420.3 1948.7V1954.3M1586.1 1957.5V1961M1453.1 1985.4V1990.4M1598.4 1955.6V1959.1M1687.9 1961.1V1964M1719.1 1982.5V1985.3M1620.6 1982.8V1986.1M1731 1955.4V1958.1M1754.5 1956.4V1959.1M1751.4 1954.8V1957.5M1734.3 1979.6V1982.3M1594.9 1981.2V1984.7M1578.9 1958.4V1962M1280.3 1939.8V1948.1M1707.6 1987.7V1990.5M1273.2 1996.1V2004.5M1713.1 1955.5V1958.3M1600 1985.2V1988.6M1767.5 1983.6V1986.2M1453.3 1993V1998M1651.6 1949.8V1952.9M1337.8 1943.5V1950.5M1758.5 1958.8V1961.4M1396.9 1943.9V1949.8M1381.5 1993.9V2000.1M1620 1990.6V1993.9M1610 1957.4V1960.7M1506.1 1947.4V1951.7M1639.8 1951V1954.2M1761 1958.3V1961M1765.4 1960.5V1963.2M1668.1 1952.7V1955.7M1667.3 1981.7V1984.7M1651.3 1987V1990M1653.5 1987.2V1990.3M1650.5 1988.4V1991.5M1733 1961.8V1964.5M1653.1 1957.4V1960.5M1685.5 1946.1V1949M1232.8 1929.1V1938.7M1671.5 1981.5V1984.4M1763.9 1978.3V1981M1571.8 1952.9V1956.6M1573.6 1954.2V1957.9M1383.5 1943.9V1950M1376.6 1949.1V1955.4M1488.1 1990.9V1995.5M1474 1988.3V1993.1M1586.8 1987.2V1990.7M1669.3 1960.6V1963.6M1613.5 1992.1V1995.5M1761.9 1988.7V1991.3M1462.6 1988.8V1993.7M1531.1 1984.8V1988.9M1666.7 1985.2V1988.2M1672.2 1983.9V1986.9M1583.4 1981.9V1985.5M1585.2 1985.7V1989.3M1366.5 1934.2V1940.7M1618.2 1984.6V1987.9M1741.3 1963.1V1965.8M1705.8 1961.3V1964.1M1598 1999.4V2002.9M1366.5 1993.4V1999.9M1717.5 1987.5V1990.3M1714.8 1987.7V1990.5M1574.3 1992.4V1996.1M1670.3 1982.2V1985.1M1700.4 1954.6V1957.5M1697 1984.3V1987.2M1372.5 1992.2V1998.5M1549.3 1982.8V1986.8M1748.6 1951.4V1954.1M1659.8 1948.7V1951.7M1675.9 1951V1954M1653.8 1987.9V1991M1727.1 1952.1V1954.8M1280.7 1937.4V1945.7M1276 1938.8V1947.2M1425.7 1941.8V1947.2M1569 1990.8V1994.5" stroke="#6C5BD6" stroke-width="2.9" stroke-linecap="round" fill="none"/>
<path d="M894.3 1877.6V1903.8M908.9 1875.5V1900.5M919.8 1882.2V1906.4M997.9 1904.7V1923.9M1005.8 1905.4V1924.2M1066.8 1913.6V1929.2M1084.3 1911.1V1925.9M1145.3 1923.9V1936.3M1152.6 1929.9V1941.9M1183.1 1923.1V1934.1M1231 1932.5V1942.1M861.3 2136.5V2165.5M898.6 2040.1V2065.9M1050.5 2013.8V2030.2M1093.1 2008V2022.4M1104.7 2007.2V2021.2M1588 2002.2V2005.8M1578 1997.2V2000.8M1348.5 1944.9V1951.7M1397.2 1947.6V1953.6M1210.9 2001.8V2012M1423.5 1951.1V1956.6M1528.8 1956.6V1960.7M1422.1 1986.6V1992.1M1607.2 1985.7V1989.1M1315.3 1993.3V2000.8M1720.1 1963.9V1966.6M1226.4 1995.4V2005.1M1609.4 1951.4V1954.8M1236.8 1934.7V1944.1M1237.7 1936.1V1945.5M1478.9 1950.6V1955.3M1219 1998.5V2008.5M1671.4 1957.5V1960.4M1649.9 1988V1991.1M1427.9 1991V1996.4M1570.4 1958.4V1962.1M1718.3 1995.1V1997.8M1758.2 1991.2V1993.9M1401.7 1986.9V1992.8M1704.2 1984V1986.8M1740.7 1956.8V1959.4M1581.1 1986.6V1990.2M1417.4 1945.9V1951.5M1412.8 1987.6V1993.3M1654.7 1961.6V1964.7M1609.2 1982V1985.3M1754.3 1978.1V1980.7M1455.6 1984.7V1989.7M1336.1 1944.5V1951.5M1712.4 1982.9V1985.6M1237 1938.5V1948M1296.6 1941.2V1949.1M1278.2 1994.4V2002.8M1695.7 1984.2V1987.1M1548.9 1957.2V1961.1M1400.1 1994.4V2000.3M1449.1 1991.1V1996.3M1711.4 1999.6V2002.4M1682.3 1981.8V1984.7M1486.4 1945.8V1950.5M1512 1952.1V1956.4M1659.5 1980.3V1983.4M1429.9 1989.5V1994.8M1410.3 1947.6V1953.3M1442.4 1995.7V2000.9M1759.2 1959.5V1962.2M1524.1 1950.4V1954.6M1332.8 1997V2004.1M1619.5 1956.7V1960M1469 1991.5V1996.3M1439.8 1986.7V1992M1254 1996V2004.9M1586.2 1989.9V1993.4M1463.7 1950.5V1955.4M1244.7 1942.5V1951.7M1699.8 1954.7V1957.5M1268.4 1942.4V1951M1298.9 1989.9V1997.7M1371 1992V1998.4" stroke="#A021FF" stroke-width="2.9" stroke-linecap="round" fill="none"/>
<path d="M617.8 2133.9V2194.1M628.4 2119.9V2178.3M1207.1 2005.4V2015.6M1238.1 2000V2009.4M1345.6 1989.6V1996.4M1373.7 1986.9V1993.3M1469.6 1983.8V1988.6M1356.3 1949V1955.6M1636.9 1958.5V1961.7M1768.6 1958.8V1961.4M1768.6 1978.2V1980.8" stroke="#C058E8" stroke-width="2.9" stroke-linecap="round" fill="none"/>
<text transform="translate(1043 1555.1) scale(1.006 0.994)" font-size="42.5">Distance to height-associated loci</text>
<circle cx="1103.9" cy="1606.8" r="11.1" fill="#5AC5AE"/>
<text transform="translate(1141.6 1622.1) scale(1.006 0.994)" font-size="42.5" word-spacing="0.5"><tspan font-size="54" dx="3.6" dy="7.4" textLength="17.6" lengthAdjust="spacingAndGlyphs" stroke="#fff" stroke-width="0.5">&lt;</tspan><tspan x="24.9" dy="-7.4">35kb: n<tspan dx="0.8">=</tspan><tspan dx="1.3">1,444 (80%)</tspan></tspan></text>
<circle cx="1103.9" cy="1657.8" r="11.1" fill="#558CBE"/>
<text transform="translate(1141.6 1673.2) scale(1.006 0.994)" font-size="42.5">35kb - 50kb: n<tspan dx="0.8">=</tspan><tspan dx="1.3">126 (7%)</tspan></text>
<circle cx="1103.9" cy="1708.7" r="11.1" fill="#6C5BD6"/>
<text transform="translate(1141.6 1724) scale(1.006 0.994)" font-size="42.5">50kb - 100kb: n<tspan dx="0.8">=</tspan><tspan dx="1.3">155 (9%)</tspan></text>
<circle cx="1103.9" cy="1759.6" r="11.1" fill="#A021FF"/>
<text transform="translate(1141.6 1774.9) scale(1.006 0.994)" font-size="42.5">100kb - 250kb: n<tspan dx="0.8">=</tspan><tspan dx="1.3">80 (4%)</tspan></text>
<circle cx="1103.9" cy="1810.8" r="11.1" fill="#C058E8"/>
<text transform="translate(1141.6 1826) scale(1.006 0.994)" font-size="42.5" word-spacing="0"><tspan font-size="54" dx="3.6" dy="7.4" textLength="17.6" lengthAdjust="spacingAndGlyphs" stroke="#fff" stroke-width="0.5">&gt;</tspan><tspan x="24.9" dy="-7.4">250 kb: n<tspan dx="0.8">=</tspan><tspan dx="1.3">11 (1%)</tspan></tspan></text>
</g>
</svg></body></html>
